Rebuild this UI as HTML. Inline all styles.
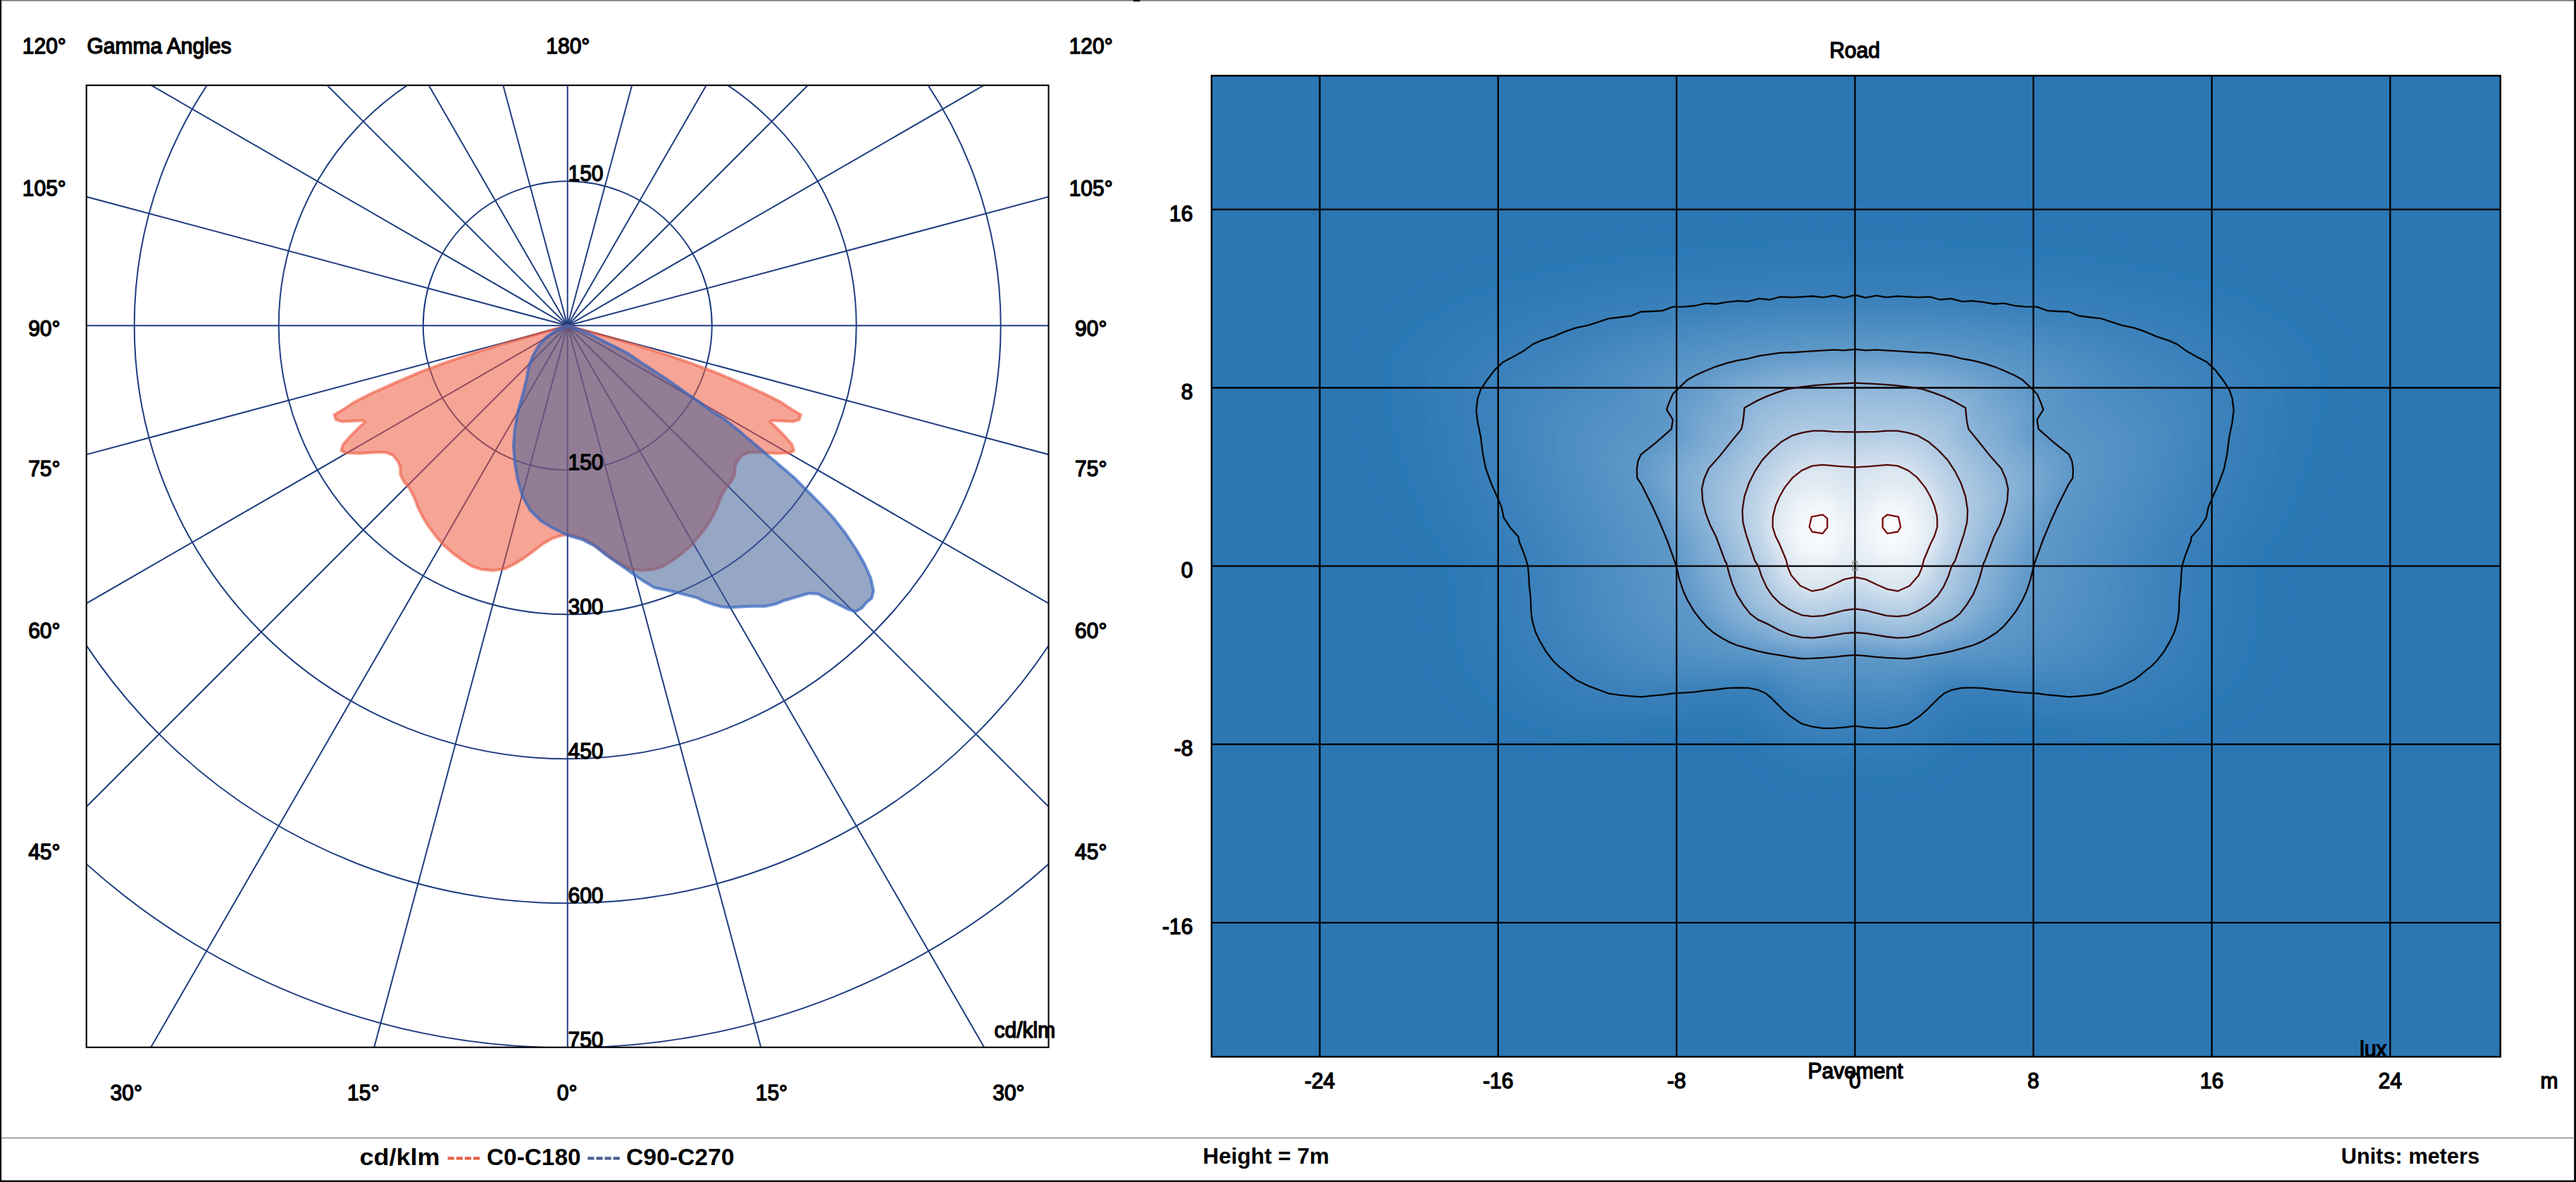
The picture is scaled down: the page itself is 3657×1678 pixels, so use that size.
<!DOCTYPE html>
<html><head><meta charset="utf-8"><title>Photometry</title>
<style>html,body{margin:0;padding:0;background:#fff}body{width:3657px;height:1678px;overflow:hidden}svg{display:block}</style>
</head><body>
<svg width="3657" height="1678" viewBox="0 0 3657 1678">
<defs>
<clipPath id="pc"><rect x="122.7" y="121.1" width="1365.9" height="1365.7"/></clipPath>
<clipPath id="hc"><rect x="1720" y="107.5" width="1829.6" height="1392.7"/></clipPath>
<radialGradient id="pk"><stop offset="0" stop-color="#fff" stop-opacity="0.95"/><stop offset="0.35" stop-color="#fff" stop-opacity="0.7"/><stop offset="0.7" stop-color="#fff" stop-opacity="0.25"/><stop offset="1" stop-color="#fff" stop-opacity="0"/></radialGradient>
<filter id="bl" x="-5%" y="-5%" width="110%" height="110%"><feGaussianBlur stdDeviation="6"/></filter>
</defs>
<rect width="3657" height="1678" fill="#fff"/>
<g clip-path="url(#pc)" fill="none" stroke="#1f3d80" stroke-width="2">
<circle cx="805.7" cy="462.3" r="205"/>
<circle cx="805.7" cy="462.3" r="410"/>
<circle cx="805.7" cy="462.3" r="615"/>
<circle cx="805.7" cy="462.3" r="820"/>
<circle cx="805.7" cy="462.3" r="1025"/>
<path d="M805.7 462.3L3005.7 462.3"/>
<path d="M805.7 462.3L2930.7 1031.7"/>
<path d="M805.7 462.3L2711 1562.3"/>
<path d="M805.7 462.3L2361.3 2017.9"/>
<path d="M805.7 462.3L1905.7 2367.6"/>
<path d="M805.7 462.3L1375.1 2587.3"/>
<path d="M805.7 462.3L805.7 2662.3"/>
<path d="M805.7 462.3L236.3 2587.3"/>
<path d="M805.7 462.3L-294.3 2367.6"/>
<path d="M805.7 462.3L-749.9 2017.9"/>
<path d="M805.7 462.3L-1099.6 1562.3"/>
<path d="M805.7 462.3L-1319.3 1031.7"/>
<path d="M805.7 462.3L-1394.3 462.3"/>
<path d="M805.7 462.3L-1319.3 -107.1"/>
<path d="M805.7 462.3L-1099.6 -637.7"/>
<path d="M805.7 462.3L-749.9 -1093.3"/>
<path d="M805.7 462.3L-294.3 -1443"/>
<path d="M805.7 462.3L236.3 -1662.7"/>
<path d="M805.7 462.3L805.7 -1737.7"/>
<path d="M805.7 462.3L1375.1 -1662.7"/>
<path d="M805.7 462.3L1905.7 -1443"/>
<path d="M805.7 462.3L2361.3 -1093.3"/>
<path d="M805.7 462.3L2711 -637.7"/>
<path d="M805.7 462.3L2930.7 -107.1"/>
</g>
<path d="M805.7 462.3L764.6 473.8L730.7 483.3L696.9 493.5L663 504.3L629.2 516.1L595.4 528.7L561.5 543.2L527.7 558.4L504 570.3L487.1 581.5L474.6 588.9L476.9 595.7L485.4 598.4L500.6 597.7L515.8 597L518.2 599.1L510.8 605.8L497.2 619.4L487.1 631.2L484.4 639.7L490.5 643L510.8 643.7L534.5 642L548.7 642.4L558.1 646.4L564.9 654.9L568.3 663.4L568.3 673.5L573.4 683.7L581.8 693.8L588.6 707.3L593.7 720.9L600.4 734.4L608.9 748L619.1 761.5L629.2 773.3L642.7 785.2L656.3 795.3L669.8 803.8L683.4 808.2L700.3 809.9L717.2 807.2L730.7 800.4L744.3 791.9L757.8 781.8L771.3 771.6L784.9 763.9L798.4 759.8L805.7 758.8L813 759.8L826.5 763.9L840.1 771.6L853.6 781.8L867.1 791.9L880.7 800.4L894.2 807.2L911.1 809.9L928 808.2L941.6 803.8L955.1 795.3L968.7 785.2L982.2 773.3L992.3 761.5L1002.5 748L1011 734.4L1017.7 720.9L1022.8 707.3L1029.6 693.8L1038 683.7L1043.1 673.5L1043.1 663.4L1046.5 654.9L1053.3 646.4L1062.7 642.4L1076.9 642L1100.6 643.7L1120.9 643L1127 639.7L1124.3 631.2L1114.2 619.4L1100.6 605.8L1093.2 599.1L1095.6 597L1110.8 597.7L1126 598.4L1134.5 595.7L1136.8 588.9L1124.3 581.5L1107.4 570.3L1083.7 558.4L1049.9 543.2L1016 528.7L982.2 516.1L948.4 504.3L914.5 493.5L880.7 483.3L846.8 473.8Z" fill="#ee5a40" fill-opacity="0.55" stroke="#ee5a40" stroke-opacity="0.6" stroke-width="4.2" stroke-linejoin="round"/>
<path d="M805.7 462.3L789.9 468.8L776.4 477.9L764.6 490.8L756.1 506L750.4 521.2L747.6 538.1L742.6 558.4L735.8 582.1L730.7 609.2L729 632.9L730.7 656.6L734.8 680.3L741.6 704L752.7 724.3L768 739.5L784.9 749.6L805.9 759.8L827.7 766.6L844.6 775L861.5 788.6L878.4 800.4L895.4 812.3L912.3 824.1L929.2 834.2L950.8 838.6L971.1 843.7L988.8 848.2L1000 853.7L1012.7 858.1L1025.4 861.4L1038.1 862.4L1050.8 861.4L1068.6 860.6L1086.3 860.6L1101.6 857.3L1111.7 853L1124.4 849.2L1137.1 845.4L1148.6 842.3L1161.2 842.8L1172.7 849.2L1187.9 856.8L1203.1 864.4L1214.6 868.2L1223.5 863.1L1229.8 855.5L1237.4 849.2L1240 839L1236.2 821.2L1227.3 800.9L1215.8 780.6L1200.6 757.8L1182.8 734.9L1165.1 715.9L1147.3 698.1L1127 677.8L1101.6 656.2L1076.2 634.6L1050.8 613L1025.4 592.7L1010 583.7L993 571L976.1 559.1L959.2 547.3L942.3 535.4L925.4 524.5L908.4 513.5L891.5 501.6L874.6 493.1L857.7 484.7L840.8 476.2L823.8 468.6Z" fill="#3f5c96" fill-opacity="0.55" stroke="#3565c0" stroke-opacity="0.7" stroke-width="4.2" stroke-linejoin="round"/>
<rect x="122.7" y="121.1" width="1365.9" height="1365.7" fill="none" stroke="#000" stroke-width="2.1"/>
<rect x="1720" y="107.5" width="1829.6" height="1392.7" fill="#2b77b4"/>
<g clip-path="url(#hc)"><g filter="url(#bl)">
<path d="M3282.9 745L3263.3 772.5L3253.7 799.3L3246.1 825.7L3244.2 852.7L3241.4 879.8L3240.4 907.6L3235.4 934.8L3225.1 960.4L3211.1 984.3L3192.9 1005.9L3170.5 1024.6L3145.7 1040.8L3116.9 1053L3086.6 1062.4L3051.9 1066.1L3015.6 1065.7L2978.7 1061.4L2947.7 1059.3L2918.6 1056.2L2892.4 1053.7L2868.1 1050.9L2847.3 1050.4L2828.7 1051.6L2812.6 1055.5L2798.7 1062.6L2786.5 1073.4L2774.4 1085.5L2761.6 1097.4L2747.9 1108.1L2733.3 1117.8L2717.1 1122.4L2700.5 1125.3L2683.6 1126.4L2666.7 1125.6L2650 1124.1L2633.4 1122.1L2616.8 1124.1L2600.1 1125.6L2583.2 1126.4L2566.3 1125.3L2549.7 1122.4L2533.5 1117.8L2518.9 1108.1L2505.2 1097.4L2492.4 1085.5L2480.3 1073.4L2468.1 1062.6L2454.2 1055.5L2438.1 1051.6L2419.5 1050.4L2398.7 1050.9L2374.4 1053.7L2348.2 1056.2L2319.1 1059.3L2288.1 1061.4L2251.2 1065.7L2214.9 1066.1L2180.2 1062.4L2149.9 1053L2121.1 1040.8L2096.3 1024.6L2073.9 1005.9L2055.7 984.3L2041.7 960.4L2031.4 934.8L2026.4 907.6L2025.4 879.8L2022.6 852.7L2020.7 825.7L2013.1 799.3L2003.5 772.5L1983.9 745L1972 716.1L1960 686.1L1947.1 654.6L1938.2 622.4L1933.2 589.8L1927.1 555.7L1924.8 521.6L1932.9 490.1L1952.2 462.8L1976.5 438.7L2010 420.5L2039.7 402.2L2075.1 389.3L2107.6 376.9L2142.4 368.3L2172.7 358.4L2207.1 354.3L2234 345.6L2266.3 344.3L2291.1 337.1L2319.4 335.7L2344.3 332.1L2369.6 330.9L2392.5 327.8L2415 325.5L2437.6 325.2L2458 321.5L2479.3 321.7L2498.8 318L2519.2 318.6L2538.6 317.5L2557.9 317L2577.2 318.3L2595.9 315.9L2614.8 319L2633.4 314.5L2652 319L2670.9 315.9L2689.6 318.3L2708.9 317L2728.2 317.5L2747.6 318.6L2768 318L2787.5 321.7L2808.8 321.5L2829.2 325.2L2851.8 325.5L2874.3 327.8L2897.2 330.9L2922.5 332.1L2947.4 335.7L2975.7 337.1L3000.5 344.3L3032.8 345.6L3059.7 354.3L3094.1 358.4L3124.4 368.3L3159.2 376.9L3191.7 389.3L3227.1 402.2L3256.8 420.5L3290.3 438.7L3314.6 462.8L3333.9 490.1L3342 521.6L3339.7 555.7L3333.6 589.8L3328.6 622.4L3319.7 654.6L3306.8 686.1L3294.8 716.1Z" fill="#2b77b4"/>
<path d="M3271.6 745L3252.4 772L3242.9 798.3L3235.5 824.3L3233.6 850.8L3230.9 877.5L3229.9 904.8L3225 931.5L3214.8 956.6L3201.1 980.2L3183.2 1001.4L3161.2 1019.8L3136.8 1035.7L3108.5 1047.7L3078.8 1056.9L3044.6 1060.6L3009 1060.1L2972.7 1055.9L2942.3 1053.9L2913.6 1050.8L2887.9 1048.3L2864 1045.6L2843.6 1045.2L2825.3 1046.3L2809.5 1050.1L2795.9 1057.1L2783.9 1067.7L2772 1079.6L2759.4 1091.2L2745.9 1101.8L2731.6 1111.3L2715.6 1115.9L2699.3 1118.7L2682.7 1119.8L2666.1 1119L2649.7 1117.5L2633.4 1115.6L2617.1 1117.5L2600.7 1119L2584.1 1119.8L2567.5 1118.7L2551.2 1115.9L2535.2 1111.3L2520.9 1101.8L2507.4 1091.2L2494.8 1079.6L2482.9 1067.7L2470.9 1057.1L2457.3 1050.1L2441.5 1046.3L2423.2 1045.2L2402.8 1045.6L2378.9 1048.3L2353.2 1050.8L2324.5 1053.9L2294.1 1055.9L2257.8 1060.1L2222.2 1060.6L2188 1056.9L2158.3 1047.7L2130 1035.7L2105.6 1019.8L2083.6 1001.4L2065.7 980.2L2052 956.6L2041.8 931.5L2036.9 904.8L2035.9 877.5L2033.2 850.8L2031.3 824.3L2023.9 798.3L2014.4 772L1995.2 745L1983.4 716.6L1971.6 687.1L1958.9 656.2L1950.2 624.5L1945.3 592.5L1939.3 559L1937.1 525.4L1945.1 494.5L1964 467.7L1987.9 444L2020.8 426.1L2050 408.1L2084.8 395.5L2116.7 383.2L2150.9 374.8L2180.7 365.1L2214.4 361.1L2240.9 352.5L2272.6 351.3L2297.1 344.2L2324.8 342.8L2349.3 339.3L2374.2 338.1L2396.7 335L2418.8 332.8L2441 332.5L2461 328.8L2482 329L2501.1 325.4L2521.1 326L2540.3 324.9L2559.2 324.4L2578.2 325.7L2596.5 323.3L2615.1 326.4L2633.4 322L2651.7 326.4L2670.3 323.3L2688.6 325.7L2707.6 324.4L2726.5 324.9L2745.7 326L2765.7 325.4L2784.8 329L2805.8 328.8L2825.8 332.5L2848 332.8L2870.1 335L2892.6 338.1L2917.5 339.3L2942 342.8L2969.7 344.2L2994.2 351.3L3025.9 352.5L3052.4 361.1L3086.1 365.1L3115.9 374.8L3150.1 383.2L3182 395.5L3216.8 408.1L3246 426.1L3278.9 444L3302.8 467.7L3321.7 494.5L3329.7 525.4L3327.5 559L3321.5 592.5L3316.6 624.5L3307.9 656.2L3295.2 687.1L3283.4 716.6Z" fill="#2b77b4"/>
<path d="M3260.4 745L3241.5 771.5L3232.2 797.4L3224.9 822.9L3223 849L3220.4 875.1L3219.3 902L3214.5 928.2L3204.6 952.9L3191.1 976L3173.6 996.9L3151.9 1014.9L3128 1030.5L3100.1 1042.3L3070.9 1051.4L3037.4 1055L3002.3 1054.6L2966.7 1050.4L2936.9 1048.5L2908.7 1045.4L2883.4 1043L2860 1040.3L2839.9 1039.9L2822 1041L2806.4 1044.7L2793 1051.6L2781.2 1062L2769.5 1073.7L2757.2 1085.1L2743.9 1095.5L2729.8 1104.9L2714.2 1109.3L2698.1 1112.2L2681.9 1113.2L2665.5 1112.5L2649.4 1111L2633.4 1109L2617.4 1111L2601.3 1112.5L2584.9 1113.2L2568.7 1112.2L2552.6 1109.3L2537 1104.9L2522.9 1095.5L2509.6 1085.1L2497.3 1073.7L2485.6 1062L2473.8 1051.6L2460.4 1044.7L2444.8 1041L2426.9 1039.9L2406.8 1040.3L2383.4 1043L2358.1 1045.4L2329.9 1048.5L2300.1 1050.4L2264.5 1054.6L2229.4 1055L2195.9 1051.4L2166.7 1042.3L2138.8 1030.5L2114.9 1014.9L2093.2 996.9L2075.7 976L2062.2 952.9L2052.3 928.2L2047.5 902L2046.4 875.1L2043.8 849L2041.9 822.9L2034.6 797.4L2025.3 771.5L2006.4 745L1994.9 717.1L1983.3 688.1L1970.8 657.8L1962.2 626.7L1957.5 595.1L1951.5 562.3L1949.3 529.3L1957.2 498.9L1975.8 472.6L1999.3 449.3L2031.6 431.7L2060.2 414.1L2094.4 401.6L2125.8 389.6L2159.4 381.3L2188.6 371.8L2221.8 367.9L2247.8 359.4L2279 358.2L2303 351.2L2330.2 349.9L2354.3 346.4L2378.7 345.3L2400.9 342.3L2422.6 340.1L2444.4 339.7L2464.1 336.2L2484.7 336.4L2503.4 332.8L2523.1 333.4L2541.9 332.3L2560.5 331.8L2579.2 333.1L2597.2 330.8L2615.4 333.8L2633.4 329.4L2651.4 333.8L2669.6 330.8L2687.6 333.1L2706.3 331.8L2724.9 332.3L2743.7 333.4L2763.4 332.8L2782.1 336.4L2802.7 336.2L2822.4 339.7L2844.2 340.1L2865.9 342.3L2888.1 345.3L2912.5 346.4L2936.6 349.9L2963.8 351.2L2987.8 358.2L3019 359.4L3045 367.9L3078.2 371.8L3107.4 381.3L3141 389.6L3172.4 401.6L3206.6 414.1L3235.2 431.7L3267.5 449.3L3291 472.6L3309.6 498.9L3317.5 529.3L3315.3 562.3L3309.3 595.1L3304.6 626.7L3296 657.8L3283.5 688.1L3271.9 717.1Z" fill="#2c77b4"/>
<path d="M3249.1 745L3230.6 771.1L3221.4 796.4L3214.3 821.5L3212.5 847.1L3209.8 872.8L3208.8 899.2L3204.1 924.9L3194.3 949.2L3181.1 971.9L3163.9 992.4L3142.6 1010.1L3119.1 1025.4L3091.7 1037L3063.1 1045.9L3030.1 1049.4L2995.7 1049L2960.7 1044.9L2931.4 1043L2903.7 1040L2878.9 1037.6L2855.9 1035L2836.2 1034.6L2818.6 1035.7L2803.3 1039.3L2790.1 1046.1L2778.6 1056.3L2767.1 1067.8L2755 1079L2741.9 1089.2L2728.1 1098.4L2712.7 1102.8L2697 1105.6L2681 1106.6L2665 1105.9L2649.1 1104.4L2633.4 1102.5L2617.7 1104.4L2601.8 1105.9L2585.8 1106.6L2569.8 1105.6L2554.1 1102.8L2538.7 1098.4L2524.9 1089.2L2511.8 1079L2499.7 1067.8L2488.2 1056.3L2476.7 1046.1L2463.5 1039.3L2448.2 1035.7L2430.6 1034.6L2410.9 1035L2387.9 1037.6L2363.1 1040L2335.4 1043L2306.1 1044.9L2271.1 1049L2236.7 1049.4L2203.7 1045.9L2175.1 1037L2147.7 1025.4L2124.2 1010.1L2102.9 992.4L2085.7 971.9L2072.5 949.2L2062.7 924.9L2058 899.2L2057 872.8L2054.3 847.1L2052.5 821.5L2045.4 796.4L2036.2 771.1L2017.7 745L2006.3 717.6L1994.9 689.1L1982.7 659.3L1974.3 628.8L1969.6 597.8L1963.8 565.6L1961.6 533.2L1969.3 503.3L1987.6 477.5L2010.6 454.6L2042.4 437.4L2070.5 420L2104.1 407.8L2134.9 396L2167.9 387.8L2196.6 378.5L2229.2 374.6L2254.7 366.3L2285.3 365.1L2308.9 358.3L2335.7 357L2359.3 353.6L2383.3 352.4L2405 349.5L2426.4 347.3L2447.8 347L2467.1 343.5L2487.3 343.7L2505.8 340.2L2525.1 340.8L2543.6 339.7L2561.8 339.2L2580.1 340.5L2597.8 338.2L2615.8 341.2L2633.4 336.9L2651 341.1L2669 338.2L2686.7 340.5L2705 339.2L2723.2 339.7L2741.7 340.8L2761 340.2L2779.5 343.7L2799.7 343.5L2819 347L2840.4 347.3L2861.8 349.5L2883.5 352.4L2907.5 353.6L2931.1 357L2957.9 358.3L2981.5 365.1L3012.1 366.3L3037.6 374.6L3070.2 378.5L3098.9 387.8L3131.9 396L3162.7 407.8L3196.3 420L3224.4 437.4L3256.2 454.6L3279.2 477.5L3297.5 503.3L3305.2 533.2L3303 565.6L3297.2 597.8L3292.5 628.8L3284.1 659.3L3271.9 689.1L3260.5 717.6Z" fill="#2c78b5"/>
<path d="M3237.9 745L3219.7 770.6L3210.7 795.5L3203.7 820.1L3201.9 845.2L3199.3 870.5L3198.3 896.4L3193.7 921.7L3184.1 945.4L3171.1 967.7L3154.2 987.8L3133.3 1005.2L3110.2 1020.3L3083.4 1031.7L3055.2 1040.4L3022.9 1043.9L2989.1 1043.5L2954.8 1039.5L2926 1037.6L2898.8 1034.6L2874.5 1032.3L2851.8 1029.7L2832.5 1029.3L2815.2 1030.3L2800.2 1034L2787.3 1040.6L2775.9 1050.6L2764.7 1061.9L2752.8 1072.9L2739.9 1082.9L2726.4 1092L2711.3 1096.3L2695.8 1099L2680.1 1100L2664.4 1099.3L2648.8 1097.8L2633.4 1096L2618 1097.8L2602.4 1099.3L2586.7 1100L2571 1099L2555.5 1096.3L2540.4 1092L2526.9 1082.9L2514 1072.9L2502.1 1061.9L2490.9 1050.6L2479.5 1040.6L2466.6 1034L2451.6 1030.3L2434.3 1029.3L2415 1029.7L2392.3 1032.3L2368 1034.6L2340.8 1037.6L2312 1039.5L2277.7 1043.5L2243.9 1043.9L2211.6 1040.4L2183.4 1031.7L2156.6 1020.3L2133.5 1005.2L2112.6 987.8L2095.7 967.7L2082.7 945.4L2073.1 921.7L2068.5 896.4L2067.5 870.5L2064.9 845.2L2063.1 820.1L2056.1 795.5L2047.1 770.6L2028.9 745L2017.8 718.1L2006.6 690.2L1994.6 660.9L1986.3 630.9L1981.7 600.5L1976 568.8L1973.9 537.1L1981.5 507.7L1999.3 482.4L2022 459.9L2053.2 443L2080.8 426L2113.8 414L2144.1 402.4L2176.5 394.4L2204.6 385.2L2236.6 381.4L2261.7 373.3L2291.7 372.1L2314.8 365.4L2341.1 364.1L2364.3 360.7L2387.9 359.6L2409.2 356.7L2430.2 354.6L2451.2 354.3L2470.1 350.8L2490 351L2508.1 347.6L2527.1 348.2L2545.2 347.1L2563.2 346.6L2581.1 347.9L2598.5 345.6L2616.1 348.5L2633.4 344.3L2650.7 348.5L2668.3 345.6L2685.7 347.9L2703.6 346.6L2721.6 347.1L2739.7 348.2L2758.7 347.6L2776.8 351L2796.7 350.8L2815.6 354.3L2836.6 354.6L2857.6 356.7L2878.9 359.6L2902.5 360.7L2925.7 364.1L2952 365.4L2975.1 372.1L3005.1 373.3L3030.2 381.4L3062.2 385.2L3090.3 394.4L3122.7 402.4L3153 414L3186 426L3213.6 443L3244.8 459.9L3267.5 482.4L3285.3 507.7L3292.9 537.1L3290.8 568.8L3285.1 600.5L3280.5 630.9L3272.2 660.9L3260.2 690.2L3249 718.1Z" fill="#2d78b5"/>
<path d="M3226.6 745L3208.8 770.1L3200 794.6L3193 818.7L3191.3 843.4L3188.8 868.1L3187.8 893.6L3183.3 918.4L3173.8 941.7L3161.1 963.6L3144.5 983.3L3124 1000.4L3101.4 1015.2L3075 1026.3L3047.4 1034.9L3015.7 1038.3L2982.5 1037.9L2948.8 1034L2920.5 1032.1L2893.9 1029.3L2870 1026.9L2847.8 1024.4L2828.8 1024L2811.8 1025L2797.1 1028.6L2784.4 1035.1L2773.3 1044.9L2762.2 1056L2750.5 1066.8L2738 1076.6L2724.6 1085.5L2709.8 1089.7L2694.7 1092.4L2679.3 1093.3L2663.8 1092.7L2648.5 1091.3L2633.4 1089.5L2618.3 1091.3L2603 1092.7L2587.5 1093.3L2572.1 1092.4L2557 1089.7L2542.2 1085.5L2528.8 1076.6L2516.3 1066.8L2504.6 1056L2493.5 1044.9L2482.4 1035.1L2469.7 1028.6L2455 1025L2438 1024L2419 1024.4L2396.8 1026.9L2372.9 1029.3L2346.3 1032.1L2318 1034L2284.3 1037.9L2251.1 1038.3L2219.4 1034.9L2191.8 1026.3L2165.4 1015.2L2142.8 1000.4L2122.3 983.3L2105.7 963.6L2093 941.7L2083.5 918.4L2079 893.6L2078 868.1L2075.5 843.4L2073.8 818.7L2066.8 794.6L2058 770.1L2040.2 745L2029.2 718.6L2018.3 691.2L2006.5 662.5L1998.4 633L1993.8 603.2L1988.2 572.1L1986.1 540.9L1993.6 512.1L2011.1 487.3L2033.4 465.2L2064 448.6L2091.1 431.9L2123.4 420.1L2153.2 408.7L2185 400.9L2212.6 391.9L2244 388.2L2268.6 380.2L2298 379L2320.8 372.4L2346.5 371.2L2369.3 367.9L2392.4 366.8L2413.4 363.9L2433.9 361.9L2454.6 361.5L2473.2 358.2L2492.7 358.3L2510.4 355L2529 355.5L2546.8 354.5L2564.5 354L2582.1 355.3L2599.1 353.1L2616.4 355.9L2633.4 351.8L2650.4 355.9L2667.7 353.1L2684.7 355.3L2702.3 354L2720 354.5L2737.8 355.5L2756.4 355L2774.1 358.3L2793.6 358.2L2812.2 361.5L2832.9 361.9L2853.4 363.9L2874.4 366.8L2897.5 367.9L2920.3 371.2L2946 372.4L2968.8 379L2998.2 380.2L3022.8 388.2L3054.2 391.9L3081.8 400.9L3113.6 408.7L3143.4 420.1L3175.7 431.9L3202.8 448.6L3233.4 465.2L3255.7 487.3L3273.2 512.1L3280.7 540.9L3278.6 572.1L3273 603.2L3268.4 633L3260.3 662.5L3248.5 691.2L3237.6 718.6Z" fill="#2e79b5"/>
<path d="M3215.4 745L3197.8 769.6L3189.2 793.6L3182.4 817.3L3180.7 841.5L3178.2 865.8L3177.3 890.7L3172.8 915.1L3163.6 938L3151.1 959.4L3134.8 978.8L3114.7 995.6L3092.5 1010.1L3066.6 1021L3039.5 1029.4L3008.4 1032.8L2975.9 1032.4L2942.8 1028.5L2915.1 1026.7L2888.9 1023.9L2865.5 1021.6L2843.7 1019.1L2825.1 1018.7L2808.4 1019.7L2794 1023.2L2781.5 1029.6L2770.6 1039.2L2759.8 1050.1L2748.3 1060.7L2736 1070.3L2722.9 1079.1L2708.4 1083.2L2693.5 1085.8L2678.4 1086.7L2663.2 1086.1L2648.2 1084.7L2633.4 1082.9L2618.6 1084.7L2603.6 1086.1L2588.4 1086.7L2573.3 1085.8L2558.4 1083.2L2543.9 1079.1L2530.8 1070.3L2518.5 1060.7L2507 1050.1L2496.2 1039.2L2485.3 1029.6L2472.8 1023.2L2458.4 1019.7L2441.7 1018.7L2423.1 1019.1L2401.3 1021.6L2377.9 1023.9L2351.7 1026.7L2324 1028.5L2290.9 1032.4L2258.4 1032.8L2227.3 1029.4L2200.2 1021L2174.3 1010.1L2152.1 995.6L2132 978.8L2115.7 959.4L2103.2 938L2094 915.1L2089.5 890.7L2088.6 865.8L2086.1 841.5L2084.4 817.3L2077.6 793.6L2069 769.6L2051.4 745L2040.7 719.1L2029.9 692.2L2018.4 664L2010.4 635.1L2006 605.9L2000.4 575.4L1998.4 544.8L2005.7 516.5L2022.9 492.1L2044.8 470.5L2074.8 454.2L2101.4 437.8L2133.1 426.3L2162.3 415.1L2193.5 407.4L2220.6 398.6L2251.4 394.9L2275.5 387.1L2304.4 386L2326.7 379.5L2352 378.3L2374.3 375L2397 373.9L2417.6 371.1L2437.7 369.1L2458 368.8L2476.2 365.5L2495.3 365.7L2512.8 362.4L2531 362.9L2548.5 361.9L2565.8 361.4L2583.1 362.6L2599.8 360.5L2616.7 363.3L2633.4 359.2L2650.1 363.3L2667 360.5L2683.7 362.6L2701 361.4L2718.3 361.9L2735.8 362.9L2754 362.4L2771.5 365.7L2790.6 365.5L2808.8 368.8L2829.1 369.1L2849.2 371.1L2869.8 373.9L2892.5 375L2914.8 378.3L2940.1 379.5L2962.4 386L2991.3 387.1L3015.4 394.9L3046.2 398.6L3073.3 407.4L3104.5 415.1L3133.7 426.3L3165.4 437.8L3192 454.2L3222 470.5L3243.9 492.1L3261.1 516.5L3268.4 544.8L3266.4 575.4L3260.8 605.9L3256.4 635.1L3248.4 664L3236.9 692.2L3226.1 719.1Z" fill="#2f7ab6"/>
<path d="M3204.1 745L3186.9 769.2L3178.5 792.7L3171.8 815.9L3170.2 839.6L3167.7 863.5L3166.8 887.9L3162.4 911.8L3153.4 934.2L3141.1 955.3L3125.1 974.3L3105.4 990.7L3083.6 1004.9L3058.3 1015.7L3031.7 1023.9L3001.2 1027.2L2969.3 1026.8L2936.8 1023L2909.6 1021.2L2884 1018.5L2861 1016.3L2839.6 1013.8L2821.4 1013.4L2805 1014.4L2790.9 1017.8L2778.7 1024.1L2768 1033.6L2757.3 1044.2L2746.1 1054.6L2734 1064.1L2721.2 1072.6L2706.9 1076.7L2692.3 1079.2L2677.5 1080.1L2662.7 1079.5L2647.9 1078.1L2633.4 1076.4L2618.9 1078.1L2604.1 1079.5L2589.3 1080.1L2574.5 1079.2L2559.9 1076.7L2545.6 1072.6L2532.8 1064.1L2520.7 1054.6L2509.5 1044.2L2498.8 1033.6L2488.1 1024.1L2475.9 1017.8L2461.8 1014.4L2445.4 1013.4L2427.2 1013.8L2405.8 1016.3L2382.8 1018.5L2357.2 1021.2L2330 1023L2297.5 1026.8L2265.6 1027.2L2235.1 1023.9L2208.5 1015.7L2183.2 1004.9L2161.4 990.7L2141.7 974.3L2125.7 955.3L2113.4 934.2L2104.4 911.8L2100 887.9L2099.1 863.5L2096.6 839.6L2095 815.9L2088.3 792.7L2079.9 769.2L2062.7 745L2052.2 719.6L2041.6 693.2L2030.2 665.6L2022.4 637.3L2018.1 608.6L2012.7 578.7L2010.7 548.7L2017.8 521L2034.7 497L2056.1 475.8L2085.6 459.8L2111.6 443.8L2142.8 432.4L2171.4 421.5L2202 413.9L2228.5 405.3L2258.7 401.7L2282.4 394L2310.8 392.9L2332.6 386.5L2357.4 385.3L2379.3 382.2L2401.6 381.1L2421.7 378.4L2441.5 376.4L2461.4 376.1L2479.2 372.8L2498 373L2515.1 369.8L2533 370.3L2550.1 369.3L2567.1 368.9L2584 370L2600.4 367.9L2617.1 370.7L2633.4 366.7L2649.7 370.6L2666.4 367.9L2682.8 370L2699.7 368.9L2716.7 369.3L2733.8 370.3L2751.7 369.8L2768.8 373L2787.6 372.8L2805.4 376.1L2825.3 376.4L2845.1 378.4L2865.2 381.1L2887.5 382.2L2909.4 385.3L2934.2 386.5L2956 392.9L2984.4 394L3008.1 401.7L3038.3 405.3L3064.8 413.9L3095.4 421.5L3124 432.4L3155.2 443.8L3181.2 459.8L3210.7 475.8L3232.1 497L3249 521L3256.1 548.7L3254.1 578.7L3248.7 608.6L3244.4 637.3L3236.6 665.6L3225.2 693.2L3214.6 719.6Z" fill="#307ab6"/>
<path d="M3192.9 745L3176 768.7L3167.7 791.7L3161.2 814.5L3159.6 837.8L3157.2 861.1L3156.3 885.1L3152 908.5L3143.1 930.5L3131.1 951.1L3115.4 969.8L3096.1 985.9L3074.7 999.8L3049.9 1010.3L3023.8 1018.4L2993.9 1021.6L2962.6 1021.3L2930.8 1017.5L2904.2 1015.8L2879.1 1013.1L2856.5 1010.9L2835.6 1008.5L2817.6 1008.1L2801.7 1009.1L2787.8 1012.5L2775.8 1018.6L2765.3 1027.9L2754.9 1038.3L2743.9 1048.5L2732 1057.8L2719.4 1066.1L2705.5 1070.1L2691.2 1072.6L2676.7 1073.5L2662.1 1072.9L2647.7 1071.6L2633.4 1069.9L2619.1 1071.6L2604.7 1072.9L2590.1 1073.5L2575.6 1072.6L2561.3 1070.1L2547.4 1066.1L2534.8 1057.8L2522.9 1048.5L2511.9 1038.3L2501.5 1027.9L2491 1018.6L2479 1012.5L2465.1 1009.1L2449.2 1008.1L2431.2 1008.5L2410.3 1010.9L2387.7 1013.1L2362.6 1015.8L2336 1017.5L2304.2 1021.3L2272.9 1021.6L2243 1018.4L2216.9 1010.3L2192.1 999.8L2170.7 985.9L2151.4 969.8L2135.7 951.1L2123.7 930.5L2114.8 908.5L2110.5 885.1L2109.6 861.1L2107.2 837.8L2105.6 814.5L2099.1 791.7L2090.8 768.7L2073.9 745L2063.6 720.1L2053.3 694.2L2042.1 667.2L2034.5 639.4L2030.2 611.3L2024.9 582L2023 552.5L2030 525.4L2046.5 501.9L2067.5 481.1L2096.4 465.4L2121.9 449.7L2152.4 438.6L2180.5 427.9L2210.5 420.5L2236.5 412L2266.1 408.4L2289.3 400.9L2317.1 399.8L2338.5 393.6L2362.9 392.4L2384.4 389.3L2406.1 388.3L2425.9 385.6L2445.3 383.6L2464.8 383.3L2482.3 380.2L2500.7 380.3L2517.4 377.1L2535 377.7L2551.8 376.7L2568.4 376.3L2585 377.4L2601.1 375.4L2617.4 378L2633.4 374.1L2649.4 378L2665.7 375.4L2681.8 377.4L2698.4 376.3L2715 376.7L2731.8 377.7L2749.4 377.1L2766.1 380.3L2784.5 380.2L2802 383.3L2821.5 383.6L2840.9 385.6L2860.7 388.3L2882.4 389.3L2903.9 392.4L2928.3 393.6L2949.7 399.8L2977.5 400.9L3000.7 408.4L3030.3 412L3056.3 420.5L3086.3 427.9L3114.4 438.6L3144.9 449.7L3170.4 465.4L3199.3 481.1L3220.3 501.9L3236.8 525.4L3243.8 552.5L3241.9 582L3236.6 611.3L3232.3 639.4L3224.7 667.2L3213.5 694.2L3203.2 720.1Z" fill="#317bb7"/>
<path d="M3181.6 745L3165.1 768.2L3157 790.8L3150.6 813.1L3149 835.9L3146.7 858.8L3145.8 882.3L3141.6 905.2L3132.9 926.8L3121.1 947L3105.7 965.3L3086.8 981L3065.9 994.7L3041.5 1005L3016 1012.9L2986.7 1016.1L2956 1015.7L2924.9 1012.1L2898.8 1010.4L2874.1 1007.7L2852 1005.6L2831.5 1003.2L2813.9 1002.8L2798.3 1003.8L2784.7 1007.1L2773 1013.1L2762.7 1022.2L2752.4 1032.4L2741.7 1042.4L2730 1051.5L2717.7 1059.7L2704 1063.6L2690 1066.1L2675.8 1066.9L2661.5 1066.3L2647.4 1065L2633.4 1063.3L2619.4 1065L2605.3 1066.3L2591 1066.9L2576.8 1066.1L2562.8 1063.6L2549.1 1059.7L2536.8 1051.5L2525.1 1042.4L2514.4 1032.4L2504.1 1022.2L2493.8 1013.1L2482.1 1007.1L2468.5 1003.8L2452.9 1002.8L2435.3 1003.2L2414.8 1005.6L2392.7 1007.7L2368 1010.4L2341.9 1012.1L2310.8 1015.7L2280.1 1016.1L2250.8 1012.9L2225.3 1005L2200.9 994.7L2180 981L2161.1 965.3L2145.7 947L2133.9 926.8L2125.2 905.2L2121 882.3L2120.1 858.8L2117.8 835.9L2116.2 813.1L2109.8 790.8L2101.7 768.2L2085.2 745L2075.1 720.6L2064.9 695.3L2054 668.7L2046.5 641.5L2042.3 614L2037.1 585.2L2035.2 556.4L2042.1 529.8L2058.3 506.8L2078.9 486.4L2107.2 471.1L2132.2 455.6L2162.1 444.8L2189.6 434.2L2219 427L2244.5 418.7L2273.5 415.2L2296.2 407.8L2323.5 406.8L2344.5 400.7L2368.3 399.5L2389.4 396.5L2410.7 395.4L2430.1 392.8L2449.1 390.9L2468.1 390.6L2485.3 387.5L2503.3 387.7L2519.7 384.5L2537 385.1L2553.4 384.1L2569.7 383.7L2586 384.8L2601.7 382.8L2617.7 385.4L2633.4 381.6L2649.1 385.4L2665.1 382.8L2680.8 384.8L2697.1 383.7L2713.4 384.1L2729.8 385.1L2747.1 384.5L2763.5 387.7L2781.5 387.5L2798.7 390.6L2817.7 390.9L2836.7 392.8L2856.1 395.4L2877.4 396.5L2898.5 399.5L2922.3 400.7L2943.3 406.8L2970.6 407.8L2993.3 415.2L3022.3 418.7L3047.8 427L3077.2 434.2L3104.7 444.8L3134.6 455.6L3159.6 471.1L3187.9 486.4L3208.5 506.8L3224.7 529.8L3231.6 556.4L3229.7 585.2L3224.5 614L3220.3 641.5L3212.8 668.7L3201.9 695.3L3191.7 720.6Z" fill="#327cb7"/>
<path d="M3170.4 745L3154.2 767.7L3146.3 789.9L3140 811.7L3138.4 834.1L3136.1 856.5L3135.3 879.5L3131.1 901.9L3122.6 923.1L3111.1 942.9L3096 960.7L3077.5 976.2L3057 989.6L3033.1 999.7L3008.1 1007.4L2979.4 1010.5L2949.4 1010.2L2918.9 1006.6L2893.3 1004.9L2869.2 1002.3L2847.6 1000.2L2827.5 997.9L2810.2 997.6L2794.9 998.5L2781.6 1001.7L2770.1 1007.6L2760 1016.5L2750 1026.5L2739.4 1036.3L2728.1 1045.2L2716 1053.2L2702.6 1057.1L2688.8 1059.5L2674.9 1060.3L2660.9 1059.7L2647.1 1058.4L2633.4 1056.8L2619.7 1058.5L2605.9 1059.7L2591.9 1060.3L2578 1059.5L2564.2 1057.1L2550.8 1053.2L2538.7 1045.2L2527.4 1036.3L2516.8 1026.5L2506.8 1016.5L2496.7 1007.6L2485.2 1001.7L2471.9 998.5L2456.6 997.6L2439.3 997.9L2419.2 1000.2L2397.6 1002.3L2373.5 1004.9L2347.9 1006.6L2317.4 1010.2L2287.4 1010.5L2258.7 1007.4L2233.7 999.7L2209.8 989.6L2189.3 976.2L2170.8 960.7L2155.7 942.9L2144.2 923.1L2135.7 901.9L2131.5 879.5L2130.7 856.5L2128.4 834.1L2126.8 811.7L2120.5 789.9L2112.6 767.7L2096.4 745L2086.5 721.1L2076.6 696.3L2065.9 670.3L2058.5 643.6L2054.5 616.7L2049.4 588.5L2047.5 560.3L2054.2 534.2L2070.1 511.7L2090.3 491.7L2118 476.7L2142.5 461.6L2171.8 450.9L2198.7 440.6L2227.5 433.5L2252.5 425.4L2280.9 422L2303.2 414.8L2329.8 413.7L2350.4 407.7L2373.7 406.6L2394.4 403.6L2415.3 402.6L2434.2 400L2452.9 398.2L2471.5 397.9L2488.4 394.8L2506 395L2522.1 391.9L2538.9 392.5L2555 391.5L2571 391.1L2587 392.2L2602.4 390.2L2618 392.8L2633.4 389.1L2648.8 392.8L2664.4 390.2L2679.8 392.2L2695.8 391.1L2711.8 391.5L2727.9 392.5L2744.7 391.9L2760.8 395L2778.4 394.8L2795.3 397.9L2813.9 398.2L2832.6 400L2851.5 402.6L2872.4 403.6L2893.1 406.6L2916.4 407.7L2937 413.7L2963.6 414.8L2985.9 422L3014.3 425.4L3039.3 433.5L3068.1 440.6L3095 450.9L3124.3 461.6L3148.8 476.7L3176.5 491.7L3196.7 511.7L3212.6 534.2L3219.3 560.3L3217.4 588.5L3212.3 616.7L3208.3 643.6L3200.9 670.3L3190.2 696.3L3180.3 721.1Z" fill="#347db8"/>
<path d="M3159.2 745L3143.3 767.3L3135.5 788.9L3129.4 810.3L3127.9 832.2L3125.6 854.1L3124.8 876.7L3120.7 898.7L3112.4 919.3L3101.1 938.7L3086.4 956.2L3068.2 971.4L3048.1 984.4L3024.8 994.3L3000.3 1001.9L2972.2 1005L2942.8 1004.6L2912.9 1001.1L2887.9 999.5L2864.2 996.9L2843.1 994.9L2823.4 992.6L2806.5 992.3L2791.5 993.2L2778.5 996.3L2767.2 1002.1L2757.4 1010.8L2747.6 1020.6L2737.2 1030.2L2726.1 1038.9L2714.3 1046.8L2701.1 1050.5L2687.7 1052.9L2674 1053.7L2660.4 1053.1L2646.8 1051.9L2633.4 1050.3L2620 1051.9L2606.4 1053.1L2592.8 1053.7L2579.1 1052.9L2565.7 1050.5L2552.5 1046.8L2540.7 1038.9L2529.6 1030.2L2519.2 1020.6L2509.4 1010.8L2499.6 1002.1L2488.3 996.3L2475.3 993.2L2460.3 992.3L2443.4 992.6L2423.7 994.9L2402.6 996.9L2378.9 999.5L2353.9 1001.1L2324 1004.6L2294.6 1005L2266.5 1001.9L2242 994.3L2218.7 984.4L2198.6 971.4L2180.4 956.2L2165.7 938.7L2154.4 919.3L2146.1 898.7L2142 876.7L2141.2 854.1L2138.9 832.2L2137.4 810.3L2131.3 788.9L2123.5 767.3L2107.6 745L2098 721.6L2088.2 697.3L2077.8 671.9L2070.6 645.8L2066.6 619.3L2061.6 591.8L2059.8 564.1L2066.4 538.6L2081.9 516.6L2101.6 497L2128.8 482.3L2152.8 467.5L2181.4 457.1L2207.8 447L2236 440L2260.4 432.1L2288.3 428.7L2310.1 421.7L2336.2 420.6L2356.3 414.8L2379.2 413.7L2399.4 410.8L2419.8 409.8L2438.4 407.3L2456.6 405.4L2474.9 405.2L2491.4 402.2L2508.7 402.3L2524.4 399.3L2540.9 399.8L2556.7 398.9L2572.3 398.5L2587.9 399.6L2603 397.6L2618.3 400.2L2633.4 396.5L2648.5 400.1L2663.8 397.6L2678.9 399.6L2694.5 398.5L2710.1 398.9L2725.9 399.8L2742.4 399.3L2758.1 402.3L2775.4 402.2L2791.9 405.2L2810.2 405.4L2828.4 407.3L2847 409.8L2867.4 410.8L2887.6 413.7L2910.5 414.8L2930.6 420.6L2956.7 421.7L2978.5 428.7L3006.4 432.1L3030.8 440L3059 447L3085.4 457.1L3114 467.5L3138 482.3L3165.2 497L3184.9 516.6L3200.4 538.6L3207 564.1L3205.2 591.8L3200.2 619.3L3196.2 645.8L3189 671.9L3178.6 697.3L3168.8 721.6Z" fill="#357eb9"/>
<path d="M3147.9 745L3132.4 766.8L3124.8 788L3118.8 808.9L3117.3 830.3L3115.1 851.8L3114.2 873.8L3110.3 895.4L3102.1 915.6L3091.1 934.6L3076.7 951.7L3058.9 966.5L3039.3 979.3L3016.4 989L2992.4 996.4L2964.9 999.4L2936.2 999.1L2906.9 995.6L2882.4 994L2859.3 991.5L2838.6 989.5L2819.3 987.3L2802.8 987L2788.1 987.9L2775.4 990.9L2764.4 996.6L2754.7 1005.1L2745.1 1014.7L2735 1024.1L2724.1 1032.6L2712.5 1040.3L2699.7 1044L2686.5 1046.3L2673.2 1047.1L2659.8 1046.5L2646.5 1045.3L2633.4 1043.7L2620.3 1045.3L2607 1046.5L2593.6 1047.1L2580.3 1046.3L2567.1 1044L2554.3 1040.3L2542.7 1032.6L2531.8 1024.1L2521.7 1014.7L2512.1 1005.1L2502.4 996.6L2491.4 990.9L2478.7 987.9L2464 987L2447.5 987.3L2428.2 989.5L2407.5 991.5L2384.4 994L2359.9 995.6L2330.6 999.1L2301.9 999.4L2274.4 996.4L2250.4 989L2227.5 979.3L2207.9 966.5L2190.1 951.7L2175.7 934.6L2164.7 915.6L2156.5 895.4L2152.6 873.8L2151.7 851.8L2149.5 830.3L2148 808.9L2142 788L2134.4 766.8L2118.9 745L2109.4 722.1L2099.9 698.3L2089.7 673.4L2082.6 647.9L2078.7 622L2073.8 595.1L2072 568L2078.5 543L2093.7 521.5L2113 502.3L2139.6 487.9L2163 473.4L2191.1 463.2L2216.9 453.4L2244.5 446.6L2268.4 438.7L2295.6 435.5L2317 428.6L2342.5 427.6L2362.3 421.9L2384.6 420.8L2404.4 417.9L2424.4 417L2442.6 414.5L2460.4 412.7L2478.3 412.4L2494.4 409.5L2511.3 409.7L2526.7 406.7L2542.9 407.2L2558.3 406.3L2573.6 405.9L2588.9 407L2603.7 405.1L2618.7 407.5L2633.4 404L2648.1 407.5L2663.1 405.1L2677.9 407L2693.2 405.9L2708.5 406.3L2723.9 407.2L2740.1 406.7L2755.5 409.7L2772.4 409.5L2788.5 412.4L2806.4 412.7L2824.2 414.5L2842.4 417L2862.4 417.9L2882.2 420.8L2904.5 421.9L2924.3 427.6L2949.8 428.6L2971.2 435.5L2998.4 438.7L3022.3 446.6L3049.9 453.4L3075.7 463.2L3103.8 473.4L3127.2 487.9L3153.8 502.3L3173.1 521.5L3188.3 543L3194.8 568L3193 595.1L3188.1 622L3184.2 647.9L3177.1 673.4L3166.9 698.3L3157.4 722.1Z" fill="#377fb9"/>
<path d="M3136.7 745L3121.5 766.3L3114 787.1L3108.2 807.5L3106.7 828.5L3104.5 849.5L3103.7 871L3099.9 892.1L3091.9 911.9L3081.1 930.4L3067 947.2L3049.6 961.7L3030.4 974.2L3008 983.7L2984.6 990.9L2957.7 993.8L2929.5 993.5L2900.9 990.2L2877 988.6L2854.4 986.1L2834.1 984.2L2815.3 982L2799.1 981.7L2784.7 982.6L2772.3 985.6L2761.5 991.1L2752 999.4L2742.7 1008.8L2732.8 1018L2722.1 1026.3L2710.8 1033.9L2698.2 1037.4L2685.4 1039.7L2672.3 1040.5L2659.2 1040L2646.2 1038.7L2633.4 1037.2L2620.6 1038.8L2607.6 1040L2594.5 1040.5L2581.4 1039.7L2568.6 1037.4L2556 1033.9L2544.7 1026.3L2534 1018L2524.1 1008.8L2514.8 999.4L2505.3 991.1L2494.5 985.6L2482.1 982.6L2467.7 981.7L2451.5 982L2432.7 984.2L2412.4 986.1L2389.8 988.6L2365.9 990.2L2337.3 993.5L2309.1 993.8L2282.2 990.9L2258.8 983.7L2236.4 974.2L2217.2 961.7L2199.8 947.2L2185.7 930.4L2174.9 911.9L2166.9 892.1L2163.1 871L2162.3 849.5L2160.1 828.5L2158.6 807.5L2152.8 787.1L2145.3 766.3L2130.1 745L2120.9 722.6L2111.6 699.3L2101.6 675L2094.7 650L2090.8 624.7L2086.1 598.3L2084.3 571.9L2090.6 547.4L2105.5 526.3L2124.4 507.6L2150.4 493.5L2173.3 479.4L2200.8 469.4L2226 459.7L2253 453.1L2276.4 445.4L2303 442.3L2323.9 435.5L2348.9 434.5L2368.2 428.9L2390.1 427.9L2409.4 425.1L2429 424.1L2446.8 421.7L2464.2 420L2481.7 419.7L2497.5 416.8L2514 417L2529.1 414.1L2544.9 414.6L2560 413.7L2574.9 413.3L2589.9 414.4L2604.3 412.5L2619 414.9L2633.4 411.4L2647.8 414.9L2662.5 412.5L2676.9 414.4L2691.9 413.3L2706.8 413.7L2721.9 414.6L2737.7 414.1L2752.8 417L2769.3 416.8L2785.1 419.7L2802.6 420L2820 421.7L2837.8 424.1L2857.4 425.1L2876.7 427.9L2898.6 428.9L2917.9 434.5L2942.9 435.5L2963.8 442.3L2990.4 445.4L3013.8 453.1L3040.8 459.7L3066 469.4L3093.5 479.4L3116.4 493.5L3142.4 507.6L3161.3 526.3L3176.2 547.4L3182.5 571.9L3180.7 598.3L3176 624.7L3172.1 650L3165.2 675L3155.2 699.3L3145.9 722.6Z" fill="#3880ba"/>
<path d="M3125.4 745L3110.6 765.8L3103.3 786.1L3097.6 806.1L3096.1 826.6L3094 847.1L3093.2 868.2L3089.4 888.8L3081.6 908.1L3071.1 926.3L3057.3 942.7L3040.3 956.8L3021.5 969.1L2999.7 978.3L2976.8 985.4L2950.4 988.3L2922.9 987.9L2895 984.7L2871.5 983.1L2849.4 980.8L2829.6 978.8L2811.2 976.7L2795.4 976.4L2781.4 977.3L2769.2 980.2L2758.6 985.6L2749.4 993.8L2740.2 1002.9L2730.6 1011.9L2720.1 1020L2709.1 1027.4L2696.8 1030.9L2684.2 1033.1L2671.4 1033.9L2658.6 1033.4L2645.9 1032.2L2633.4 1030.7L2620.9 1032.2L2608.2 1033.4L2595.4 1033.9L2582.6 1033.1L2570 1030.9L2557.7 1027.4L2546.7 1020L2536.2 1011.9L2526.6 1002.9L2517.4 993.8L2508.2 985.6L2497.6 980.2L2485.4 977.3L2471.4 976.4L2455.6 976.7L2437.2 978.8L2417.4 980.8L2395.3 983.1L2371.8 984.7L2343.9 987.9L2316.4 988.3L2290 985.4L2267.1 978.3L2245.3 969.1L2226.5 956.8L2209.5 942.7L2195.7 926.3L2185.2 908.1L2177.4 888.8L2173.6 868.2L2172.8 847.1L2170.7 826.6L2169.2 806.1L2163.5 786.1L2156.2 765.8L2141.4 745L2132.3 723.1L2123.2 700.4L2113.4 676.5L2106.7 652.1L2103 627.4L2098.3 601.6L2096.6 575.7L2102.7 551.9L2117.3 531.2L2135.8 512.9L2161.2 499.2L2183.6 485.3L2210.5 475.6L2235.1 466.1L2261.5 459.6L2284.4 452.1L2310.4 449L2330.8 442.4L2355.3 441.5L2374.1 436L2395.5 434.9L2414.4 432.2L2433.6 431.3L2450.9 428.9L2468 427.2L2485.1 427L2500.5 424.2L2516.7 424.3L2531.4 421.5L2546.9 422L2561.6 421.2L2576.2 420.7L2590.8 421.8L2605 419.9L2619.3 422.3L2633.4 418.9L2647.5 422.3L2661.8 419.9L2676 421.8L2690.6 420.7L2705.2 421.2L2719.9 422L2735.4 421.5L2750.1 424.3L2766.3 424.2L2781.7 427L2798.8 427.2L2815.9 428.9L2833.2 431.3L2852.4 432.2L2871.3 434.9L2892.7 436L2911.5 441.5L2936 442.4L2956.4 449L2982.4 452.1L3005.3 459.6L3031.7 466.1L3056.3 475.6L3083.2 485.3L3105.6 499.2L3131 512.9L3149.5 531.2L3164.1 551.9L3170.2 575.7L3168.5 601.6L3163.8 627.4L3160.1 652.1L3153.4 676.5L3143.6 700.4L3134.5 723.1Z" fill="#3a81bb"/>
<path d="M3103.8 745L3090 764.9L3082.9 784.3L3077.4 803.4L3075.7 823L3073.4 842.5L3072.4 862.6L3068.7 882.3L3061.3 900.8L3051.4 918.1L3038.5 933.9L3022.7 947.6L3005.1 959.6L2984.7 968.8L2963.3 976L2938.8 979.3L2913 979.6L2886.9 977.2L2864.7 976.3L2843.7 974.5L2824.8 973.1L2807.2 971.5L2791.9 971.4L2778.3 972.4L2766.3 975.2L2755.8 980.2L2746.6 987.7L2737.4 996.1L2727.8 1004.2L2717.4 1011.5L2706.6 1018.1L2694.6 1021.2L2682.4 1023.1L2670.1 1023.7L2657.7 1023.2L2645.5 1022L2633.4 1020.6L2621.3 1022L2609.1 1023.2L2596.7 1023.7L2584.4 1023.1L2572.2 1021.2L2560.2 1018.1L2549.4 1011.5L2539 1004.2L2529.4 996.1L2520.2 987.7L2511 980.2L2500.5 975.2L2488.5 972.4L2474.9 971.4L2459.6 971.5L2442 973.1L2423.1 974.5L2402.1 976.3L2379.9 977.2L2353.8 979.6L2328 979.3L2303.5 976L2282.1 968.8L2261.7 959.6L2244.1 947.6L2228.3 933.9L2215.4 918.1L2205.5 900.8L2198.1 882.3L2194.4 862.6L2193.4 842.5L2191.1 823L2189.4 803.4L2183.9 784.3L2176.8 764.9L2163 745L2154.3 724.1L2145.5 702.3L2136.1 679.5L2129.3 656.1L2125.1 632.3L2120.9 607.7L2119.7 583L2126.4 560.5L2140.7 540.9L2158.4 523.5L2182.3 510.2L2202.7 496.3L2226.2 485.6L2248.9 475.8L2273.5 468.9L2295.2 461.2L2319.7 457.6L2339.4 451L2362.7 449.6L2381 444.2L2401.6 442.9L2419.9 440.1L2438.5 439L2455.4 436.6L2472 434.9L2488.6 434.5L2503.7 431.8L2519.4 431.9L2533.9 429.3L2548.9 429.7L2563.3 428.8L2577.6 428.4L2591.8 429.3L2605.6 427.6L2619.6 429.8L2633.4 426.6L2647.2 429.7L2661.2 427.6L2675 429.3L2689.2 428.4L2703.5 428.8L2717.9 429.7L2732.9 429.3L2747.4 431.9L2763.1 431.8L2778.2 434.5L2794.8 434.9L2811.4 436.6L2828.3 439L2846.9 440.1L2865.2 442.9L2885.8 444.2L2904.1 449.6L2927.4 451L2947.1 457.6L2971.6 461.2L2993.3 468.9L3017.9 475.8L3040.6 485.6L3064.1 496.3L3084.5 510.2L3108.4 523.5L3126.1 540.9L3140.4 560.5L3147.1 583L3145.9 607.7L3141.7 632.3L3137.5 656.1L3130.7 679.5L3121.3 702.3L3112.5 724.1Z" fill="#3e83bc"/>
<path d="M3082.2 745L3069.3 764L3062.6 782.5L3057.2 800.8L3055.2 819.4L3052.8 838L3051.6 857.1L3048 875.7L3041 893.4L3031.7 910L3019.7 925.1L3005 938.4L2988.6 950.1L2969.7 959.2L2949.8 966.6L2927.1 970.3L2903.1 971.3L2878.7 969.8L2857.9 969.5L2838 968.3L2820 967.4L2803.2 966.3L2788.5 966.5L2775.2 967.5L2763.4 970.2L2753 974.8L2743.8 981.7L2734.6 989.2L2724.9 996.5L2714.7 1003L2704.1 1008.8L2692.5 1011.5L2680.7 1013.1L2668.8 1013.6L2656.8 1012.9L2645.1 1011.9L2633.4 1010.5L2621.7 1011.9L2610 1012.9L2598 1013.6L2586.1 1013.1L2574.3 1011.5L2562.7 1008.8L2552.1 1003L2541.9 996.5L2532.2 989.2L2523 981.7L2513.8 974.8L2503.4 970.2L2491.6 967.5L2478.3 966.5L2463.6 966.3L2446.8 967.4L2428.8 968.3L2408.9 969.5L2388.1 969.8L2363.7 971.3L2339.7 970.3L2317 966.6L2297.1 959.2L2278.2 950.1L2261.8 938.4L2247.1 925.1L2235.1 910L2225.8 893.4L2218.8 875.7L2215.2 857.1L2214 838L2211.6 819.4L2209.6 800.8L2204.2 782.5L2197.5 764L2184.6 745L2176.3 725L2167.8 704.3L2158.7 682.5L2151.8 660.1L2147.2 637.2L2143.5 613.7L2142.9 590.3L2150 569.1L2164.1 550.6L2181 534.1L2203.4 521.2L2221.8 507.4L2242 495.6L2262.7 485.5L2285.6 478.1L2305.9 470.2L2329.1 466.1L2348 459.6L2370.2 457.7L2387.9 452.4L2407.7 450.8L2425.4 448L2443.4 446.8L2459.8 444.3L2475.9 442.5L2492.1 441.9L2506.8 439.5L2522.2 439.5L2536.3 437.1L2551 437.3L2565 436.5L2578.9 436.1L2592.8 436.8L2606.3 435.4L2620 437.2L2633.4 434.3L2646.8 437.2L2660.5 435.4L2674 436.8L2687.9 436.1L2701.8 436.5L2715.8 437.3L2730.5 437.1L2744.6 439.5L2760 439.5L2774.7 441.9L2790.9 442.5L2807 444.3L2823.4 446.8L2841.4 448L2859.1 450.8L2878.9 452.4L2896.6 457.7L2918.8 459.6L2937.7 466.1L2960.9 470.2L2981.2 478.1L3004.1 485.5L3024.8 495.6L3045 507.4L3063.4 521.2L3085.8 534.1L3102.7 550.6L3116.8 569.1L3123.9 590.3L3123.3 613.7L3119.6 637.2L3115 660.1L3108.1 682.5L3099 704.3L3090.5 725Z" fill="#4286be"/>
<path d="M3060.6 745L3048.7 763.1L3042.2 780.8L3037 798.1L3034.8 815.8L3032.2 833.4L3030.8 851.5L3027.3 869.2L3020.7 886L3012.1 901.9L3000.9 916.4L2987.3 929.2L2972.2 940.6L2954.7 949.7L2936.4 957.1L2915.4 961.4L2893.2 963L2870.6 962.4L2851.1 962.7L2832.3 962.1L2815.2 961.6L2799.2 961L2785 961.5L2772.1 962.7L2760.5 965.2L2750.2 969.5L2740.9 975.6L2731.7 982.4L2722.1 988.8L2712 994.4L2701.6 999.4L2690.3 1001.7L2678.9 1003.1L2667.4 1003.4L2655.9 1002.7L2644.6 1001.7L2633.4 1000.4L2622.2 1001.7L2610.9 1002.7L2599.4 1003.4L2587.9 1003.1L2576.5 1001.7L2565.2 999.4L2554.8 994.4L2544.7 988.8L2535.1 982.4L2525.9 975.6L2516.6 969.5L2506.3 965.2L2494.7 962.7L2481.8 961.5L2467.6 961L2451.6 961.6L2434.5 962.1L2415.7 962.7L2396.2 962.4L2373.6 963L2351.4 961.4L2330.4 957.1L2312.1 949.7L2294.6 940.6L2279.5 929.2L2265.9 916.4L2254.7 901.9L2246.1 886L2239.5 869.2L2236 851.5L2234.6 833.4L2232 815.8L2229.8 798.1L2224.6 780.8L2218.1 763.1L2206.2 745L2198.3 726L2190.1 706.2L2181.3 685.5L2174.4 664.1L2169.3 642.1L2166.1 619.8L2166 597.6L2173.6 577.7L2187.5 560.3L2203.7 544.6L2224.6 532.2L2240.9 518.4L2257.7 505.7L2276.6 495.1L2297.6 487.4L2316.7 479.3L2338.4 474.7L2356.6 468.2L2377.6 465.9L2394.8 460.6L2413.8 458.7L2431 455.9L2448.4 454.5L2464.2 452L2479.9 450.1L2495.6 449.4L2510 447.1L2525 447.1L2538.8 444.9L2553 445L2566.7 444.2L2580.3 443.7L2593.8 444.3L2607 443.1L2620.3 444.7L2633.4 442L2646.5 444.7L2659.8 443.1L2673 444.3L2686.5 443.7L2700.1 444.2L2713.8 445L2728 444.9L2741.8 447.1L2756.8 447.1L2771.2 449.4L2786.9 450.1L2802.6 452L2818.4 454.5L2835.8 455.9L2853 458.7L2872 460.6L2889.2 465.9L2910.2 468.2L2928.4 474.7L2950.1 479.3L2969.2 487.4L2990.2 495.1L3009.1 505.7L3025.9 518.4L3042.2 532.2L3063.1 544.6L3079.3 560.3L3093.2 577.7L3100.8 597.6L3100.7 619.8L3097.5 642.1L3092.4 664.1L3085.5 685.5L3076.7 706.2L3068.5 726Z" fill="#4588bf"/>
<path d="M3039 745L3028.1 762.2L3021.9 779L3016.8 795.5L3014.3 812.2L3011.6 828.8L3010 845.9L3006.6 862.7L3000.5 878.6L2992.4 893.7L2982.1 907.6L2969.7 920L2955.7 931.1L2939.7 940.2L2922.9 947.7L2903.7 952.4L2883.3 954.7L2862.5 954.9L2844.3 955.9L2826.6 955.8L2810.4 955.9L2795.1 955.8L2781.5 956.5L2769 957.8L2757.6 960.2L2747.4 964.1L2738.1 969.6L2728.9 975.6L2719.3 981.1L2709.3 985.9L2699.1 990.1L2688.2 992L2677.1 993L2666.1 993.2L2655.1 992.5L2644.2 991.5L2633.4 990.4L2622.6 991.5L2611.7 992.5L2600.7 993.2L2589.7 993L2578.6 992L2567.7 990.1L2557.5 985.9L2547.5 981.1L2537.9 975.6L2528.7 969.6L2519.4 964.1L2509.2 960.2L2497.8 957.8L2485.3 956.5L2471.7 955.8L2456.4 955.9L2440.2 955.8L2422.5 955.9L2404.3 954.9L2383.5 954.7L2363.1 952.4L2343.9 947.7L2327.1 940.2L2311.1 931.1L2297.1 920L2284.7 907.6L2274.4 893.7L2266.3 878.6L2260.2 862.7L2256.8 845.9L2255.2 828.8L2252.5 812.2L2250 795.5L2244.9 779L2238.7 762.2L2227.8 745L2220.2 727L2212.4 708.2L2203.9 688.5L2197 668L2191.4 647L2188.7 625.8L2189.1 604.9L2197.2 586.2L2210.9 570L2226.3 555.2L2245.7 543.2L2260 529.4L2273.5 515.7L2290.4 504.8L2309.7 496.6L2327.5 488.3L2347.8 483.3L2365.2 476.8L2385.1 474L2401.7 468.9L2419.8 466.7L2436.5 463.8L2453.3 462.3L2468.6 459.6L2483.9 457.8L2499.1 456.9L2513.2 454.8L2527.8 454.7L2541.2 452.7L2555.1 452.7L2568.4 451.9L2581.6 451.4L2594.8 451.8L2607.7 450.8L2620.6 452.2L2633.4 449.6L2646.2 452.1L2659.1 450.8L2672 451.8L2685.2 451.4L2698.4 451.9L2711.7 452.7L2725.6 452.7L2739 454.7L2753.6 454.8L2767.7 456.9L2782.9 457.8L2798.2 459.6L2813.5 462.3L2830.3 463.8L2847 466.7L2865.1 468.9L2881.7 474L2901.6 476.8L2919 483.3L2939.3 488.3L2957.1 496.6L2976.4 504.8L2993.3 515.7L3006.8 529.4L3021.1 543.2L3040.5 555.2L3055.9 570L3069.6 586.2L3077.7 604.9L3078.1 625.8L3075.4 647L3069.8 668L3062.9 688.5L3054.4 708.2L3046.6 727Z" fill="#498bc1"/>
<path d="M3017.4 745L3007.5 761.3L3001.5 777.2L2996.6 792.8L2993.9 808.6L2991 824.3L2989.1 840.3L2985.9 856.1L2980.2 871.2L2972.8 885.6L2963.3 898.9L2952 910.9L2939.2 921.6L2924.8 930.6L2909.5 938.3L2892 943.5L2873.4 946.4L2854.4 947.5L2837.5 949.1L2820.9 949.6L2805.6 950.2L2791.1 950.6L2778 951.5L2765.9 952.9L2754.7 955.2L2744.6 958.7L2735.3 963.5L2726.1 968.7L2716.5 973.4L2706.7 977.3L2696.6 980.8L2686 982.3L2675.4 983L2664.7 983L2654.2 982.3L2643.7 981.4L2633.4 980.3L2623.1 981.4L2612.6 982.3L2602.1 983L2591.4 983L2580.8 982.3L2570.2 980.8L2560.1 977.3L2550.3 973.4L2540.7 968.7L2531.5 963.5L2522.2 958.7L2512.1 955.2L2500.9 952.9L2488.8 951.5L2475.7 950.6L2461.2 950.2L2445.9 949.6L2429.3 949.1L2412.4 947.5L2393.4 946.4L2374.8 943.5L2357.3 938.3L2342 930.6L2327.6 921.6L2314.8 910.9L2303.5 898.9L2294 885.6L2286.6 871.2L2280.9 856.1L2277.7 840.3L2275.8 824.3L2272.9 808.6L2270.2 792.8L2265.3 777.2L2259.3 761.3L2249.4 745L2242.2 727.9L2234.7 710.1L2226.5 691.4L2219.5 672L2213.5 651.9L2211.3 631.9L2212.3 612.2L2220.9 594.8L2234.3 579.7L2248.9 565.7L2266.9 554.2L2279.2 540.5L2289.2 525.7L2304.2 514.5L2321.7 505.9L2338.2 497.3L2357.1 491.8L2373.8 485.4L2392.5 482.2L2408.6 477.1L2425.9 474.6L2442 471.7L2458.2 470L2473.1 467.3L2487.9 465.4L2502.6 464.4L2516.4 462.4L2530.5 462.3L2543.7 460.5L2557.1 460.4L2570.1 459.6L2583 459.1L2595.8 459.3L2608.3 458.5L2620.9 459.6L2633.4 457.3L2645.9 459.6L2658.5 458.5L2671 459.3L2683.8 459.1L2696.7 459.6L2709.7 460.4L2723.1 460.5L2736.3 462.3L2750.4 462.4L2764.2 464.4L2778.9 465.4L2793.7 467.3L2808.6 470L2824.8 471.7L2840.9 474.6L2858.2 477.1L2874.3 482.2L2893 485.4L2909.7 491.8L2928.6 497.3L2945.1 505.9L2962.6 514.5L2977.6 525.7L2987.6 540.5L2999.9 554.2L3017.9 565.7L3032.5 579.7L3045.9 594.8L3054.5 612.2L3055.5 631.9L3053.3 651.9L3047.3 672L3040.3 691.4L3032.1 710.1L3024.6 727.9Z" fill="#4d8dc2"/>
<path d="M2995.7 745L2986.9 760.4L2981.1 775.4L2976.4 790.2L2973.4 805L2970.4 819.7L2968.3 834.7L2965.1 849.6L2959.9 863.8L2953.1 877.4L2944.6 890.1L2934.3 901.7L2922.8 912.1L2909.8 921.1L2896 928.9L2880.3 934.5L2863.5 938L2846.3 940.1L2830.7 942.3L2815.2 943.4L2800.7 944.4L2787.1 945.3L2774.5 946.6L2762.8 948.1L2751.8 950.2L2741.8 953.3L2732.5 957.5L2723.2 961.9L2713.7 965.7L2704 968.8L2694.1 971.5L2683.8 972.5L2673.6 973L2663.4 972.8L2653.3 972.1L2643.3 971.2L2633.4 970.2L2623.5 971.2L2613.5 972.1L2603.4 972.8L2593.2 973L2583 972.5L2572.7 971.5L2562.8 968.8L2553.1 965.7L2543.6 961.9L2534.3 957.5L2525 953.3L2515 950.2L2504 948.1L2492.3 946.6L2479.7 945.3L2466.1 944.4L2451.6 943.4L2436.1 942.3L2420.5 940.1L2403.3 938L2386.5 934.5L2370.8 928.9L2357 921.1L2344 912.1L2332.5 901.7L2322.2 890.1L2313.7 877.4L2306.9 863.8L2301.7 849.6L2298.5 834.7L2296.4 819.7L2293.4 805L2290.4 790.2L2285.7 775.4L2279.9 760.4L2271.1 745L2264.2 728.9L2257 712.1L2249.1 694.4L2242.1 676L2235.6 656.8L2233.9 637.9L2235.4 619.5L2244.5 603.4L2257.6 589.4L2271.6 576.3L2288 565.2L2298.3 551.5L2305 535.8L2318 524.2L2333.8 515.1L2349 506.4L2366.4 500.4L2382.4 494L2400 490.3L2415.5 485.3L2432 482.5L2447.6 479.6L2463.2 477.8L2477.5 475L2491.8 473.1L2506.1 471.9L2519.5 470.1L2533.3 470L2546.2 468.3L2559.2 468L2571.8 467.3L2584.3 466.7L2596.8 466.8L2609 466.2L2621.3 467.1L2633.4 465L2645.5 467.1L2657.8 466.2L2670 466.8L2682.5 466.7L2695 467.3L2707.6 468L2720.6 468.3L2733.5 470L2747.3 470.1L2760.7 471.9L2775 473.1L2789.3 475L2803.6 477.8L2819.2 479.6L2834.8 482.5L2851.3 485.3L2866.8 490.3L2884.4 494L2900.4 500.4L2917.8 506.4L2933 515.1L2948.8 524.2L2961.8 535.8L2968.5 551.5L2978.8 565.2L2995.2 576.3L3009.2 589.4L3022.3 603.4L3031.4 619.5L3032.9 637.9L3031.2 656.8L3024.7 676L3017.7 694.4L3009.8 712.1L3002.6 728.9Z" fill="#518fc3"/>
<path d="M2974.1 745L2966.2 759.5L2960.8 773.6L2956.2 787.5L2953 801.3L2949.8 815.1L2947.5 829.2L2944.4 843.1L2939.6 856.4L2933.5 869.3L2925.8 881.3L2916.7 892.5L2906.3 902.6L2894.8 911.5L2882.5 919.4L2868.7 925.5L2853.5 929.7L2838.2 932.6L2823.8 935.4L2809.5 937.1L2795.9 938.7L2783.1 940.1L2771.1 941.6L2759.7 943.2L2749 945.1L2739 947.9L2729.7 951.5L2720.4 955.1L2710.9 958L2701.3 960.3L2691.6 962.1L2681.7 962.8L2671.8 963L2662.1 962.6L2652.4 961.9L2642.8 961L2633.4 960.1L2624 961.1L2614.4 961.9L2604.7 962.6L2595 963L2585.1 962.8L2575.2 962.1L2565.5 960.3L2555.9 958L2546.4 955.1L2537.1 951.5L2527.8 947.9L2517.8 945.1L2507.1 943.2L2495.7 941.6L2483.7 940.1L2470.9 938.7L2457.3 937.1L2443 935.4L2428.6 932.6L2413.3 929.7L2398.1 925.5L2384.3 919.4L2372 911.5L2360.5 902.6L2350.1 892.5L2341 881.3L2333.3 869.3L2327.2 856.4L2322.4 843.1L2319.3 829.2L2317 815.1L2313.8 801.3L2310.6 787.5L2306 773.6L2300.6 759.5L2292.7 745L2286.2 729.8L2279.3 714L2271.7 697.4L2264.7 680L2257.7 661.7L2256.5 644L2258.6 626.8L2268.1 612L2281 599L2294.2 586.8L2309.2 576.2L2317.4 562.5L2320.7 545.8L2331.9 533.9L2345.9 524.4L2359.8 515.4L2375.8 508.9L2391 502.6L2407.5 498.4L2422.4 493.5L2438.1 490.5L2453.1 487.5L2468.1 485.5L2481.9 482.6L2495.8 480.7L2509.5 479.4L2522.7 477.7L2536.1 477.6L2548.6 476.1L2561.2 475.7L2573.5 475L2585.7 474.4L2597.8 474.3L2609.7 473.9L2621.6 474.6L2633.4 472.7L2645.2 474.5L2657.1 473.9L2669 474.3L2681.1 474.4L2693.3 475L2705.6 475.7L2718.2 476.1L2730.7 477.6L2744.1 477.7L2757.3 479.4L2771 480.7L2784.9 482.6L2798.7 485.5L2813.7 487.5L2828.7 490.5L2844.4 493.5L2859.3 498.4L2875.8 502.6L2891 508.9L2907 515.4L2920.9 524.4L2934.9 533.9L2946.1 545.8L2949.4 562.5L2957.6 576.2L2972.6 586.8L2985.8 599L2998.7 612L3008.2 626.8L3010.3 644L3009.1 661.7L3002.1 680L2995.1 697.4L2987.5 714L2980.6 729.8Z" fill="#5592c5"/>
<path d="M2952.5 745L2945.6 758.6L2940.4 771.9L2936 784.8L2932.5 797.7L2929.1 810.6L2926.7 823.6L2923.7 836.5L2919.3 849L2913.8 861.1L2907 872.6L2899 883.3L2889.9 893.1L2879.8 902L2869.1 910L2857 916.6L2843.6 921.4L2830.1 925.2L2817 928.6L2803.7 930.9L2791.1 933L2779.1 934.9L2767.6 936.6L2756.6 938.3L2746.1 940.1L2736.2 942.6L2726.9 945.4L2717.6 948.2L2708.1 950.3L2698.6 951.7L2689.1 952.8L2679.5 953.1L2670.1 952.9L2660.7 952.5L2651.5 951.7L2642.4 950.9L2633.4 950L2624.4 950.9L2615.3 951.7L2606.1 952.5L2596.7 952.9L2587.3 953.1L2577.7 952.8L2568.2 951.7L2558.7 950.3L2549.2 948.2L2539.9 945.4L2530.6 942.6L2520.7 940.1L2510.2 938.3L2499.2 936.6L2487.7 934.9L2475.7 933L2463.1 930.9L2449.8 928.6L2436.7 925.2L2423.2 921.4L2409.8 916.6L2397.7 910L2387 902L2376.9 893.1L2367.8 883.3L2359.8 872.6L2353 861.1L2347.5 849L2343.1 836.5L2340.1 823.6L2337.7 810.6L2334.3 797.7L2330.8 784.8L2326.4 771.9L2321.2 758.6L2314.3 745L2308.1 730.8L2301.6 716L2294.3 700.4L2287.2 684L2279.9 666.6L2279.1 650.1L2281.7 634.1L2291.7 620.6L2304.4 608.7L2316.9 597.4L2330.3 587.2L2336.5 573.6L2336.5 555.9L2345.7 543.5L2357.9 533.6L2370.6 524.5L2385.1 517.5L2399.6 511.2L2414.9 506.6L2429.3 501.7L2444.2 498.4L2458.6 495.4L2473 493.2L2486.4 490.3L2499.8 488.3L2513 486.9L2525.9 485.4L2538.8 485.2L2551.1 483.9L2563.3 483.4L2575.2 482.6L2587 482L2598.7 481.8L2610.4 481.6L2621.9 482L2633.4 480.4L2644.9 482L2656.4 481.6L2668.1 481.8L2679.8 482L2691.6 482.6L2703.5 483.4L2715.7 483.9L2728 485.2L2740.9 485.4L2753.8 486.9L2767 488.3L2780.4 490.3L2793.8 493.2L2808.2 495.4L2822.6 498.4L2837.5 501.7L2851.9 506.6L2867.2 511.2L2881.7 517.5L2896.2 524.5L2908.9 533.6L2921.1 543.5L2930.3 555.9L2930.3 573.6L2936.5 587.2L2949.9 597.4L2962.4 608.7L2975.1 620.6L2985.1 634.1L2987.7 650.1L2986.9 666.6L2979.6 684L2972.5 700.4L2965.2 716L2958.7 730.8Z" fill="#5894c6"/>
<path d="M2930.9 745L2925 757.7L2920 770.1L2915.8 782.2L2912.1 794.1L2908.5 806L2905.9 818L2903 830L2899 841.7L2894.1 853L2888.2 863.8L2881.3 874.1L2873.4 883.6L2864.8 892.4L2855.6 900.6L2845.3 907.6L2833.7 913.1L2821.9 917.8L2810.2 921.8L2798 924.7L2786.3 927.2L2775.1 929.7L2764.1 931.7L2753.5 933.5L2743.2 935.1L2733.4 937.2L2724 939.4L2714.8 941.4L2705.3 942.6L2695.9 943.2L2686.6 943.5L2677.4 943.3L2668.3 942.9L2659.4 942.3L2650.6 941.5L2641.9 940.7L2633.4 939.9L2624.9 940.7L2616.2 941.5L2607.4 942.3L2598.5 942.9L2589.4 943.3L2580.2 943.5L2570.9 943.2L2561.5 942.6L2552 941.4L2542.8 939.4L2533.4 937.2L2523.6 935.1L2513.3 933.5L2502.7 931.7L2491.7 929.7L2480.5 927.2L2468.8 924.7L2456.6 921.8L2444.9 917.8L2433.1 913.1L2421.5 907.6L2411.2 900.6L2402 892.4L2393.4 883.6L2385.5 874.1L2378.6 863.8L2372.7 853L2367.8 841.7L2363.8 830L2360.9 818L2358.3 806L2354.7 794.1L2351 782.2L2346.8 770.1L2341.8 757.7L2335.9 745L2330.1 731.8L2323.9 717.9L2316.9 703.3L2309.8 687.9L2302 671.5L2301.7 656.1L2304.9 641.4L2315.3 629.2L2327.8 618.4L2339.5 608L2351.5 598.3L2355.6 584.6L2352.3 565.9L2359.5 553.2L2370 542.9L2381.3 533.5L2394.4 526L2408.2 519.8L2422.4 514.7L2436.2 509.9L2450.3 506.3L2464.1 503.3L2478 501L2490.8 498L2503.8 496L2516.5 494.4L2529 493.1L2541.6 492.8L2553.6 491.8L2565.4 491.1L2576.9 490.3L2588.4 489.7L2599.7 489.2L2611 489.4L2622.2 489.5L2633.4 488.1L2644.6 489.5L2655.8 489.4L2667.1 489.2L2678.4 489.7L2689.9 490.3L2701.4 491.1L2713.2 491.8L2725.2 492.8L2737.8 493.1L2750.3 494.4L2763 496L2776 498L2788.8 501L2802.7 503.3L2816.5 506.3L2830.6 509.9L2844.4 514.7L2858.6 519.8L2872.4 526L2885.5 533.5L2896.8 542.9L2907.3 553.2L2914.5 565.9L2911.2 584.6L2915.3 598.3L2927.3 608L2939 618.4L2951.5 629.2L2961.9 641.4L2965.1 656.1L2964.8 671.5L2957 687.9L2949.9 703.3L2942.9 717.9L2936.7 731.8Z" fill="#5c97c8"/>
<path d="M2909.3 745L2904.4 756.8L2899.7 768.3L2895.6 779.5L2891.6 790.5L2887.9 801.4L2885.1 812.4L2882.3 823.5L2878.7 834.3L2874.5 844.9L2869.4 855L2863.7 864.9L2857 874.1L2849.9 882.9L2842.2 891.2L2833.6 898.6L2823.8 904.8L2813.8 910.3L2803.4 915L2792.3 918.4L2781.5 921.5L2771.1 924.4L2760.6 926.7L2750.4 928.6L2740.3 930.1L2730.6 931.8L2721.2 933.3L2711.9 934.6L2702.5 934.9L2693.2 934.6L2684.1 934.2L2675.2 933.6L2666.5 932.9L2658 932.1L2649.7 931.3L2641.5 930.5L2633.4 929.9L2625.3 930.6L2617.1 931.3L2608.8 932.1L2600.3 932.9L2591.6 933.6L2582.7 934.2L2573.6 934.6L2564.3 934.9L2554.9 934.6L2545.6 933.3L2536.2 931.8L2526.5 930.1L2516.4 928.6L2506.2 926.7L2495.7 924.4L2485.3 921.5L2474.5 918.4L2463.4 915L2453 910.3L2443 904.8L2433.2 898.6L2424.6 891.2L2416.9 882.9L2409.8 874.1L2403.1 864.9L2397.4 855L2392.3 844.9L2388.1 834.3L2384.5 823.5L2381.7 812.4L2378.9 801.4L2375.2 790.5L2371.2 779.5L2367.1 768.3L2362.4 756.8L2357.5 745L2352.1 732.7L2346.2 719.9L2339.6 706.3L2332.4 691.9L2324.1 676.4L2324.3 662.2L2328 648.7L2339 637.8L2351.2 628.1L2362.1 618.5L2372.6 609.3L2374.7 595.6L2368 575.9L2373.3 562.9L2382 552.1L2392.1 542.5L2403.8 534.6L2416.8 528.4L2429.8 522.9L2443.1 518.2L2456.4 514.3L2469.7 511.2L2482.9 508.7L2495.2 505.7L2507.7 503.6L2520 501.9L2532.2 500.7L2544.4 500.4L2556 499.6L2567.4 498.7L2578.6 498L2589.7 497.4L2600.7 496.7L2611.7 497.1L2622.6 497L2633.4 495.8L2644.2 496.9L2655.1 497.1L2666.1 496.7L2677.1 497.4L2688.2 498L2699.4 498.7L2710.8 499.6L2722.4 500.4L2734.6 500.7L2746.8 501.9L2759.1 503.6L2771.6 505.7L2783.9 508.7L2797.1 511.2L2810.4 514.3L2823.7 518.2L2837 522.9L2850 528.4L2863 534.6L2874.7 542.5L2884.8 552.1L2893.5 562.9L2898.8 575.9L2892.1 595.6L2894.2 609.3L2904.7 618.5L2915.6 628.1L2927.8 637.8L2938.8 648.7L2942.5 662.2L2942.7 676.4L2934.4 691.9L2927.2 706.3L2920.6 719.9L2914.7 732.7Z" fill="#6099c9"/>
<path d="M2900.5 745L2895.7 756.5L2891 767.5L2887.1 778.4L2883.2 789L2879.6 799.6L2876.7 810.2L2873.9 820.8L2870.5 831.3L2866.5 841.6L2861.8 851.5L2856.4 861.1L2850.1 870.1L2843.3 878.7L2836 886.9L2827.9 894.3L2818.7 900.5L2809.1 906L2799.1 910.7L2788.4 914.2L2778 917.3L2768 920.4L2757.9 922.8L2748 924.9L2738.2 926.6L2728.8 928.2L2719.6 929.8L2710.4 930.9L2701.2 931.2L2692 930.9L2683.1 930.3L2674.3 929.7L2665.8 928.9L2657.5 928.1L2649.3 927.2L2641.3 926.5L2633.4 925.9L2625.5 926.6L2617.5 927.2L2609.3 928.1L2601 928.9L2592.5 929.7L2583.7 930.3L2574.8 930.9L2565.6 931.2L2556.4 930.9L2547.2 929.8L2538 928.2L2528.6 926.6L2518.8 924.9L2508.9 922.8L2498.8 920.4L2488.8 917.3L2478.4 914.2L2467.7 910.7L2457.7 906L2448.1 900.5L2438.9 894.3L2430.8 886.9L2423.5 878.7L2416.7 870.1L2410.4 861.1L2405 851.5L2400.3 841.6L2396.3 831.3L2392.9 820.8L2390.1 810.2L2387.2 799.6L2383.6 789L2379.7 778.4L2375.8 767.5L2371.1 756.5L2366.3 745L2361.1 733.1L2355.6 720.7L2349.4 707.6L2342.9 693.8L2335.6 679L2335.9 665.3L2339.5 652.3L2349.6 641.7L2361 632.2L2371.4 622.8L2381.4 613.8L2384 601L2378.8 582.8L2384.2 570.5L2392.5 560.2L2402.1 550.9L2412.6 542.7L2424.1 535.7L2436.1 529.7L2448.7 524.9L2461.5 520.9L2474.2 517.7L2487 515.1L2498.9 512L2511 509.9L2522.9 508.1L2534.8 506.9L2546.6 506.4L2557.9 505.6L2569 504.7L2580 504L2590.8 503.4L2601.5 502.8L2612.2 503L2622.8 502.9L2633.4 501.8L2644 502.8L2654.6 503L2665.3 502.8L2676 503.4L2686.8 504L2697.8 504.7L2708.9 505.6L2720.2 506.4L2732 506.9L2743.9 508.1L2755.8 509.9L2767.9 512L2779.8 515.1L2792.6 517.7L2805.3 520.9L2818.1 524.9L2830.7 529.7L2842.7 535.7L2854.2 542.7L2864.7 550.9L2874.3 560.2L2882.6 570.5L2888 582.8L2882.8 601L2885.4 613.8L2895.4 622.8L2905.8 632.2L2917.2 641.7L2927.3 652.3L2930.9 665.3L2931.2 679L2923.9 693.8L2917.4 707.6L2911.2 720.7L2905.7 733.1Z" fill="#669dcb"/>
<path d="M2891.7 745L2887 756.1L2882.4 766.8L2878.6 777.3L2874.8 787.6L2871.3 797.7L2868.4 808L2865.5 818.2L2862.3 828.3L2858.5 838.3L2854.1 847.9L2849 857.3L2843.2 866.1L2836.8 874.6L2829.9 882.6L2822.2 889.9L2813.6 896.2L2804.4 901.7L2794.8 906.4L2784.5 909.9L2774.5 913.1L2764.8 916.3L2755.2 918.9L2745.6 921.1L2736.2 923L2726.9 924.7L2717.9 926.2L2708.9 927.3L2699.8 927.5L2690.8 927.1L2682 926.5L2673.5 925.8L2665.1 924.9L2657 924.1L2649 923.2L2641.2 922.5L2633.4 921.9L2625.6 922.6L2617.8 923.2L2609.8 924.1L2601.7 924.9L2593.3 925.8L2584.8 926.5L2576 927.1L2567 927.5L2557.9 927.3L2548.9 926.2L2539.9 924.7L2530.6 923L2521.2 921.1L2511.6 918.9L2502 916.3L2492.3 913.1L2482.3 909.9L2472 906.4L2462.4 901.7L2453.2 896.2L2444.6 889.9L2436.9 882.6L2430 874.6L2423.6 866.1L2417.8 857.3L2412.7 847.9L2408.3 838.3L2404.5 828.3L2401.3 818.2L2398.4 808L2395.5 797.7L2392 787.6L2388.2 777.3L2384.4 766.8L2379.8 756.1L2375.1 745L2370.1 733.5L2364.9 721.5L2359.3 708.9L2353.5 695.6L2347.1 681.5L2347.6 668.4L2351.1 656L2360.2 645.6L2370.8 636.2L2380.7 627.1L2390.2 618.4L2393.2 606.3L2389.6 589.7L2395.1 578.1L2403 568.2L2412.1 559.3L2421.4 550.8L2431.5 543.1L2442.3 536.4L2454.4 531.7L2466.6 527.6L2478.8 524.2L2491 521.5L2502.6 518.4L2514.3 516.1L2525.8 514.3L2537.3 513L2548.8 512.5L2559.8 511.6L2570.6 510.8L2581.3 510L2591.9 509.4L2602.3 508.8L2612.7 508.9L2623.1 508.7L2633.4 507.7L2643.7 508.7L2654.1 508.9L2664.5 508.8L2674.9 509.4L2685.5 510L2696.2 510.8L2707 511.6L2718 512.5L2729.5 513L2741 514.3L2752.5 516.1L2764.2 518.4L2775.8 521.5L2788 524.2L2800.2 527.6L2812.4 531.7L2824.5 536.4L2835.3 543.1L2845.4 550.8L2854.7 559.3L2863.8 568.2L2871.7 578.1L2877.2 589.7L2873.6 606.3L2876.6 618.4L2886.1 627.1L2896 636.2L2906.6 645.6L2915.7 656L2919.2 668.4L2919.7 681.5L2913.3 695.6L2907.5 708.9L2901.9 721.5L2896.7 733.5Z" fill="#6ca0cd"/>
<path d="M2883 745L2878.3 755.7L2873.8 766L2870 776.2L2866.4 786.1L2863 795.9L2860.1 805.7L2857.1 815.5L2854.1 825.3L2850.6 835L2846.5 844.4L2841.7 853.5L2836.3 862.2L2830.3 870.4L2823.8 878.3L2816.5 885.5L2808.4 891.9L2799.7 897.4L2790.5 902.1L2780.6 905.6L2770.9 908.9L2761.7 912.2L2752.4 915L2743.2 917.4L2734.1 919.4L2725.1 921.1L2716.2 922.7L2707.4 923.6L2698.5 923.8L2689.6 923.4L2681 922.7L2672.6 921.9L2664.4 921L2656.4 920L2648.6 919.2L2641 918.5L2633.4 917.9L2625.8 918.5L2618.2 919.2L2610.4 920L2602.4 921L2594.2 921.9L2585.8 922.7L2577.2 923.4L2568.3 923.8L2559.4 923.6L2550.6 922.7L2541.7 921.1L2532.7 919.4L2523.6 917.4L2514.4 915L2505.1 912.2L2495.9 908.9L2486.2 905.6L2476.3 902.1L2467.1 897.4L2458.4 891.9L2450.3 885.5L2443 878.3L2436.5 870.4L2430.5 862.2L2425.1 853.5L2420.3 844.4L2416.2 835L2412.7 825.3L2409.7 815.5L2406.7 805.7L2403.8 795.9L2400.4 786.1L2396.8 776.2L2393 766L2388.5 755.7L2383.8 745L2379.1 733.9L2374.3 722.3L2369.2 710.2L2364.1 697.5L2358.6 684.1L2359.3 671.5L2362.6 659.6L2370.9 649.4L2380.6 640.3L2389.9 631.5L2398.9 622.9L2402.4 611.7L2400.5 596.6L2405.9 585.7L2413.6 576.3L2422 567.6L2430.2 558.8L2438.9 550.5L2448.5 543.2L2460.1 538.4L2471.7 534.3L2483.4 530.8L2495.1 527.9L2506.2 524.7L2517.5 522.4L2528.7 520.5L2539.9 519.2L2551 518.5L2561.7 517.6L2572.2 516.8L2582.6 516L2592.9 515.4L2603.1 514.9L2613.3 514.9L2623.3 514.6L2633.4 513.7L2643.5 514.6L2653.5 514.9L2663.7 514.9L2673.9 515.4L2684.2 516L2694.6 516.8L2705.1 517.6L2715.8 518.5L2726.9 519.2L2738.1 520.5L2749.3 522.4L2760.6 524.7L2771.7 527.9L2783.4 530.8L2795.1 534.3L2806.7 538.4L2818.3 543.2L2827.9 550.5L2836.6 558.8L2844.8 567.6L2853.2 576.3L2860.9 585.7L2866.3 596.6L2864.4 611.7L2867.9 622.9L2876.9 631.5L2886.2 640.3L2895.9 649.4L2904.2 659.6L2907.5 671.5L2908.2 684.1L2902.7 697.5L2897.6 710.2L2892.5 722.3L2887.7 733.9Z" fill="#72a4cf"/>
<path d="M2874.2 745L2869.6 755.3L2865.1 765.3L2861.5 775L2858 784.6L2854.7 794.1L2851.7 803.5L2848.8 812.9L2845.9 822.3L2842.6 831.7L2838.8 840.8L2834.4 849.6L2829.4 858.2L2823.8 866.3L2817.6 874L2810.8 881.2L2803.3 887.6L2795 893.1L2786.2 897.8L2776.6 901.3L2767.4 904.7L2758.6 908.2L2749.7 911.1L2740.8 913.6L2732 915.8L2723.2 917.6L2714.6 919.1L2705.9 919.9L2697.2 920.2L2688.4 919.6L2680 918.9L2671.7 917.9L2663.7 917L2655.9 916L2648.3 915.1L2640.8 914.5L2633.4 914L2626 914.5L2618.5 915.1L2610.9 916L2603.1 917L2595.1 917.9L2586.8 918.9L2578.4 919.6L2569.6 920.2L2560.9 919.9L2552.2 919.1L2543.6 917.6L2534.8 915.8L2526 913.6L2517.1 911.1L2508.2 908.2L2499.4 904.7L2490.2 901.3L2480.6 897.8L2471.8 893.1L2463.5 887.6L2456 881.2L2449.2 874L2443 866.3L2437.4 858.2L2432.4 849.6L2428 840.8L2424.2 831.7L2420.9 822.3L2418 812.9L2415.1 803.5L2412.1 794.1L2408.8 784.6L2405.3 775L2401.7 765.3L2397.2 755.3L2392.6 745L2388.2 734.3L2383.6 723.1L2379 711.5L2374.6 699.4L2370.1 686.6L2370.9 674.7L2374.1 663.2L2381.5 653.3L2390.4 644.3L2399.2 635.8L2407.7 627.5L2411.7 617L2411.3 603.5L2416.8 593.3L2424.1 584.4L2432 576L2439.1 566.9L2446.2 557.8L2454.8 550L2465.7 545.2L2476.8 540.9L2488 537.3L2499.2 534.3L2509.9 531.1L2520.8 528.6L2531.6 526.7L2542.4 525.3L2553.2 524.6L2563.6 523.6L2573.9 522.8L2584 522L2594 521.5L2603.9 520.9L2613.8 520.8L2623.6 520.5L2633.4 519.7L2643.2 520.5L2653 520.8L2662.9 520.9L2672.8 521.5L2682.8 522L2692.9 522.8L2703.2 523.6L2713.6 524.6L2724.4 525.3L2735.2 526.7L2746 528.6L2756.9 531.1L2767.6 534.3L2778.8 537.3L2790 540.9L2801.1 545.2L2812 550L2820.6 557.8L2827.7 566.9L2834.8 576L2842.7 584.4L2850 593.3L2855.5 603.5L2855.1 617L2859.1 627.5L2867.6 635.8L2876.4 644.3L2885.3 653.3L2892.7 663.2L2895.9 674.7L2896.7 686.6L2892.2 699.4L2887.8 711.5L2883.2 723.1L2878.6 734.3Z" fill="#78a8d1"/>
<path d="M2865.4 745L2860.9 754.9L2856.5 764.5L2853 773.9L2849.6 783.1L2846.3 792.2L2843.4 801.3L2840.4 810.3L2837.7 819.3L2834.6 828.4L2831.2 837.2L2827.1 845.8L2822.6 854.2L2817.2 862.1L2811.5 869.7L2805.2 876.8L2798.2 883.3L2790.3 888.8L2781.9 893.5L2772.7 897L2763.9 900.5L2755.5 904.1L2747 907.2L2738.5 909.9L2730 912.3L2721.4 914L2712.9 915.5L2704.4 916.3L2695.8 916.5L2687.3 915.8L2679 915L2670.9 914L2663 913L2655.4 912L2647.9 911.1L2640.6 910.5L2633.4 910L2626.2 910.5L2618.9 911.1L2611.4 912L2603.8 913L2595.9 914L2587.8 915L2579.5 915.8L2571 916.5L2562.4 916.3L2553.9 915.5L2545.4 914L2536.8 912.3L2528.3 909.9L2519.8 907.2L2511.3 904.1L2502.9 900.5L2494.1 897L2484.9 893.5L2476.5 888.8L2468.6 883.3L2461.6 876.8L2455.3 869.7L2449.6 862.1L2444.2 854.2L2439.7 845.8L2435.6 837.2L2432.2 828.4L2429.1 819.3L2426.4 810.3L2423.4 801.3L2420.5 792.2L2417.2 783.1L2413.8 773.9L2410.3 764.5L2405.9 754.9L2401.4 745L2397.2 734.7L2392.9 724L2388.9 712.8L2385.2 701.2L2381.6 689.2L2382.6 677.8L2385.6 666.9L2392.1 657.2L2400.2 648.4L2408.5 640.1L2416.5 632.1L2420.9 622.3L2422.1 610.4L2427.7 601L2434.6 592.4L2442 584.4L2447.9 575L2453.6 565.2L2461 556.8L2471.4 551.9L2481.9 547.6L2492.6 543.8L2503.2 540.7L2513.6 537.5L2524 534.9L2534.5 532.9L2544.9 531.5L2555.4 530.6L2565.5 529.6L2575.5 528.8L2585.3 528L2595 527.5L2604.7 526.9L2614.3 526.7L2623.9 526.4L2633.4 525.7L2642.9 526.4L2652.5 526.7L2662.1 526.9L2671.8 527.5L2681.5 528L2691.3 528.8L2701.3 529.6L2711.4 530.6L2721.9 531.5L2732.3 532.9L2742.8 534.9L2753.2 537.5L2763.6 540.7L2774.2 543.8L2784.9 547.6L2795.4 551.9L2805.8 556.8L2813.2 565.2L2818.9 575L2824.8 584.4L2832.2 592.4L2839.1 601L2844.7 610.4L2845.9 622.3L2850.3 632.1L2858.3 640.1L2866.6 648.4L2874.7 657.2L2881.2 666.9L2884.2 677.8L2885.2 689.2L2881.6 701.2L2877.9 712.8L2873.9 724L2869.6 734.7Z" fill="#7dabd3"/>
<path d="M2856.7 745L2852.2 754.6L2847.8 763.8L2844.5 772.8L2841.2 781.6L2838 790.4L2835.1 799L2832 807.6L2829.4 816.4L2826.7 825.1L2823.6 833.7L2819.8 842L2815.7 850.2L2810.7 858L2805.4 865.4L2799.5 872.4L2793.1 879L2785.6 884.5L2777.6 889.2L2768.8 892.8L2760.4 896.3L2752.4 900L2744.3 903.3L2736.1 906.2L2727.9 908.7L2719.5 910.4L2711.3 912L2702.8 912.6L2694.5 912.8L2686.1 912.1L2677.9 911.2L2670 910.1L2662.3 909L2654.9 908L2647.6 907.1L2640.5 906.5L2633.4 906L2626.3 906.5L2619.2 907.1L2611.9 908L2604.5 909L2596.8 910.1L2588.9 911.2L2580.7 912.1L2572.3 912.8L2564 912.6L2555.5 912L2547.3 910.4L2538.9 908.7L2530.7 906.2L2522.5 903.3L2514.4 900L2506.4 896.3L2498 892.8L2489.2 889.2L2481.2 884.5L2473.7 879L2467.3 872.4L2461.4 865.4L2456.1 858L2451.1 850.2L2447 842L2443.2 833.7L2440.1 825.1L2437.4 816.4L2434.8 807.6L2431.7 799L2428.8 790.4L2425.6 781.6L2422.3 772.8L2419 763.8L2414.6 754.6L2410.1 745L2406.2 735.1L2402.3 724.8L2398.8 714.1L2395.8 703.1L2393.2 691.7L2394.2 680.9L2397.1 670.5L2402.8 661.1L2410 652.5L2417.7 644.4L2425.2 636.6L2430.2 627.7L2432.9 617.3L2438.6 608.6L2445.1 600.5L2452 592.8L2456.7 583.1L2461 572.6L2467.2 563.6L2477.1 558.7L2487 554.3L2497.1 550.4L2507.3 547.1L2517.3 543.8L2527.3 541.2L2537.4 539.1L2547.5 537.6L2557.6 536.7L2567.4 535.6L2577.1 534.8L2586.6 534L2596.1 533.5L2605.5 533L2614.8 532.7L2624.1 532.3L2633.4 531.6L2642.7 532.3L2652 532.7L2661.3 533L2670.7 533.5L2680.2 534L2689.7 534.8L2699.4 535.6L2709.2 536.7L2719.3 537.6L2729.4 539.1L2739.5 541.2L2749.5 543.8L2759.5 547.1L2769.7 550.4L2779.8 554.3L2789.7 558.7L2799.6 563.6L2805.8 572.6L2810.1 583.1L2814.8 592.8L2821.7 600.5L2828.2 608.6L2833.9 617.3L2836.6 627.7L2841.6 636.6L2849.1 644.4L2856.8 652.5L2864 661.1L2869.7 670.5L2872.6 680.9L2873.6 691.7L2871 703.1L2868 714.1L2864.5 724.8L2860.6 735.1Z" fill="#83afd5"/>
<path d="M2847.9 745L2843.5 754.2L2839.2 763L2836 771.7L2832.8 780.2L2829.7 788.5L2826.7 796.8L2823.6 805L2821.2 813.4L2818.7 821.8L2815.9 830.1L2812.5 838.2L2808.8 846.3L2804.2 853.8L2799.2 861.1L2793.8 868.1L2788 874.7L2780.9 880.1L2773.3 884.9L2764.9 888.5L2756.9 892.1L2749.2 896L2741.5 899.4L2733.7 902.4L2725.9 905.1L2717.7 906.9L2709.6 908.4L2701.3 909L2693.1 909.1L2684.9 908.3L2676.9 907.4L2669.1 906.2L2661.6 905L2654.3 903.9L2647.2 903L2640.3 902.5L2633.4 902L2626.5 902.5L2619.6 903L2612.5 903.9L2605.2 905L2597.7 906.2L2589.9 907.4L2581.9 908.3L2573.7 909.1L2565.5 909L2557.2 908.4L2549.1 906.9L2540.9 905.1L2533.1 902.4L2525.3 899.4L2517.6 896L2509.9 892.1L2501.9 888.5L2493.5 884.9L2485.9 880.1L2478.8 874.7L2473 868.1L2467.6 861.1L2462.6 853.8L2458 846.3L2454.3 838.2L2450.9 830.1L2448.1 821.8L2445.6 813.4L2443.2 805L2440.1 796.8L2437.1 788.5L2434 780.2L2430.8 771.7L2427.6 763L2423.3 754.2L2418.9 745L2415.2 735.5L2411.6 725.6L2408.7 715.4L2406.3 705L2404.7 694.3L2405.9 684L2408.7 674.1L2413.4 664.9L2419.8 656.5L2427 648.7L2434 641.2L2439.4 633L2443.7 624.1L2449.4 616.2L2455.6 608.6L2461.9 601.1L2465.5 591.2L2468.4 580L2473.4 570.4L2482.7 565.4L2492.1 560.9L2501.7 556.9L2511.4 553.5L2520.9 550.2L2530.5 547.4L2540.3 545.3L2550 543.7L2559.8 542.7L2569.3 541.7L2578.7 540.8L2588 540L2597.2 539.5L2606.3 539L2615.3 538.6L2624.4 538.2L2633.4 537.6L2642.4 538.1L2651.5 538.6L2660.5 539L2669.6 539.5L2678.8 540L2688.1 540.8L2697.5 541.7L2707 542.7L2716.8 543.7L2726.5 545.3L2736.3 547.4L2745.9 550.2L2755.4 553.5L2765.1 556.9L2774.7 560.9L2784.1 565.4L2793.4 570.4L2798.4 580L2801.3 591.2L2804.9 601.1L2811.2 608.6L2817.4 616.2L2823.1 624.1L2827.4 633L2832.8 641.2L2839.8 648.7L2847 656.5L2853.4 664.9L2858.1 674.1L2860.9 684L2862.1 694.3L2860.5 705L2858.1 715.4L2855.2 725.6L2851.6 735.5Z" fill="#89b2d7"/>
<path d="M2839.1 745L2834.8 753.8L2830.5 762.2L2827.4 770.5L2824.4 778.7L2821.4 786.7L2818.4 794.6L2815.2 802.3L2813 810.4L2810.7 818.5L2808.3 826.6L2805.2 834.4L2801.9 842.3L2797.7 849.6L2793.1 856.8L2788.1 863.7L2782.9 870.4L2776.2 875.8L2769 880.6L2761 884.2L2753.3 887.9L2746.1 891.9L2738.8 895.5L2731.3 898.7L2723.8 901.6L2715.8 903.3L2708 904.9L2699.8 905.3L2691.8 905.4L2683.7 904.6L2675.9 903.5L2668.3 902.3L2660.9 901.1L2653.8 899.9L2646.9 899L2640.1 898.5L2633.4 898.1L2626.7 898.5L2619.9 899L2613 899.9L2605.9 901.1L2598.5 902.3L2590.9 903.5L2583.1 904.6L2575 905.4L2567 905.3L2558.8 904.9L2551 903.3L2543 901.6L2535.5 898.7L2528 895.5L2520.7 891.9L2513.5 887.9L2505.8 884.2L2497.8 880.6L2490.6 875.8L2483.9 870.4L2478.7 863.7L2473.7 856.8L2469.1 849.6L2464.9 842.3L2461.6 834.4L2458.5 826.6L2456.1 818.5L2453.8 810.4L2451.6 802.3L2448.4 794.6L2445.4 786.7L2442.4 778.7L2439.4 770.5L2436.3 762.2L2432 753.8L2427.7 745L2424.3 735.9L2421 726.4L2418.5 716.7L2416.9 706.8L2416.2 696.8L2417.5 687.2L2420.2 677.8L2424 668.8L2429.6 660.6L2436.3 653.1L2442.7 645.7L2448.7 638.3L2454.5 631L2460.3 623.8L2466.1 616.6L2471.9 609.5L2474.3 599.3L2475.7 587.3L2479.7 577.2L2488.4 572.2L2497.3 567.6L2506.3 563.5L2515.5 559.9L2524.6 556.6L2533.8 553.7L2543.2 551.5L2552.6 549.9L2562 548.8L2571.2 547.7L2580.3 546.8L2589.3 546L2598.2 545.5L2607.1 545L2615.9 544.6L2624.6 544.1L2633.4 543.6L2642.2 544L2650.9 544.5L2659.7 545L2668.6 545.5L2677.5 546L2686.5 546.8L2695.6 547.7L2704.8 548.8L2714.2 549.9L2723.6 551.5L2733 553.7L2742.2 556.6L2751.3 559.9L2760.5 563.5L2769.5 567.6L2778.4 572.2L2787.1 577.2L2791.1 587.3L2792.5 599.3L2794.9 609.5L2800.7 616.6L2806.5 623.8L2812.3 631L2818.1 638.3L2824.1 645.7L2830.5 653.1L2837.2 660.6L2842.8 668.8L2846.6 677.8L2849.3 687.2L2850.6 696.8L2849.9 706.8L2848.3 716.7L2845.8 726.4L2842.5 735.9Z" fill="#8fb6d9"/>
<path d="M2833.2 745L2829.1 753.5L2825.2 761.8L2822.2 769.9L2819.3 777.8L2816.4 785.6L2813.6 793.3L2810.5 800.8L2808.3 808.7L2805.8 816.4L2803.4 824.3L2800.4 831.9L2797.2 839.6L2793.2 846.8L2788.8 853.8L2784 860.6L2779 867.1L2772.5 872.5L2765.7 877.3L2758 881L2750.6 884.7L2743.6 888.6L2736.5 892.2L2729.1 895.2L2721.8 898.1L2713.9 899.7L2706.2 901.2L2698.2 901.5L2690.4 901.5L2682.5 900.6L2674.8 899.5L2667.4 898.2L2660.2 896.9L2653.2 895.8L2646.5 894.8L2639.9 894.3L2633.4 893.9L2626.9 894.3L2620.3 894.8L2613.6 895.8L2606.6 896.9L2599.4 898.2L2592 899.5L2584.3 900.6L2576.4 901.5L2568.6 901.5L2560.6 901.2L2552.9 899.7L2545 898.1L2537.7 895.2L2530.3 892.2L2523.2 888.6L2516.2 884.7L2508.8 881L2501.1 877.3L2494.3 872.5L2487.8 867.1L2482.8 860.6L2478 853.8L2473.6 846.8L2469.6 839.6L2466.4 831.9L2463.4 824.3L2461 816.4L2458.5 808.7L2456.3 800.8L2453.2 793.3L2450.4 785.6L2447.5 777.8L2444.6 769.9L2441.6 761.8L2437.7 753.5L2433.6 745L2430.5 736.1L2427.6 727L2425.4 717.6L2424.1 708.1L2423.6 698.5L2425 689.2L2427.6 680.1L2431.2 671.4L2436.4 663.4L2442.6 656L2448.7 648.9L2454.4 641.6L2460 634.5L2465.5 627.4L2471.2 620.5L2476.9 613.7L2479.6 604.1L2481.5 593.1L2485.6 583.7L2493.9 578.8L2502.4 574.3L2511.1 570.3L2520 566.9L2528.8 563.8L2537.7 561.1L2546.7 559.1L2555.8 557.6L2564.8 556.6L2573.7 555.7L2582.5 555L2591.1 554.4L2599.7 554L2608.2 553.5L2616.6 553.1L2625 552.7L2633.4 552.3L2641.8 552.7L2650.2 553.1L2658.6 553.5L2667.1 554L2675.7 554.4L2684.3 555L2693.1 555.7L2702 556.6L2711 557.6L2720.1 559.1L2729.1 561.1L2738 563.8L2746.8 566.9L2755.7 570.3L2764.4 574.3L2772.9 578.8L2781.2 583.7L2785.3 593.1L2787.2 604.1L2789.9 613.7L2795.6 620.5L2801.3 627.4L2806.8 634.5L2812.4 641.6L2818.1 648.9L2824.2 656L2830.4 663.4L2835.6 671.4L2839.2 680.1L2841.8 689.2L2843.2 698.5L2842.7 708.1L2841.4 717.6L2839.2 727L2836.3 736.1Z" fill="#93b9da"/>
<path d="M2827.2 745L2823.5 753.3L2819.9 761.3L2817 769.2L2814.2 776.9L2811.4 784.5L2808.7 792L2805.8 799.4L2803.6 806.9L2800.9 814.4L2798.5 822L2795.6 829.5L2792.6 836.9L2788.7 843.9L2784.6 850.9L2779.9 857.4L2775.1 863.9L2768.9 869.2L2762.3 873.9L2755 877.7L2747.9 881.5L2741.1 885.3L2734.1 888.8L2726.9 891.8L2719.7 894.5L2712 896.1L2704.5 897.5L2696.6 897.7L2689 897.6L2681.2 896.6L2673.7 895.5L2666.5 894.1L2659.5 892.8L2652.7 891.6L2646.1 890.7L2639.7 890.1L2633.4 889.6L2627.1 890.2L2620.7 890.7L2614.1 891.6L2607.3 892.8L2600.3 894.1L2593.1 895.5L2585.6 896.6L2577.8 897.6L2570.2 897.7L2562.3 897.5L2554.8 896.1L2547.1 894.5L2539.9 891.8L2532.7 888.8L2525.7 885.3L2518.9 881.5L2511.8 877.7L2504.5 873.9L2497.9 869.2L2491.7 863.9L2486.9 857.4L2482.2 850.9L2478.1 843.9L2474.2 836.9L2471.2 829.5L2468.3 822L2465.9 814.4L2463.2 806.9L2461 799.4L2458.1 792L2455.4 784.5L2452.6 776.9L2449.8 769.2L2446.9 761.3L2443.3 753.3L2439.6 745L2436.7 736.4L2434.2 727.6L2432.3 718.5L2431.3 709.4L2431.1 700.1L2432.4 691.2L2435 682.4L2438.4 674L2443.2 666.2L2449 659L2454.7 652L2460.1 644.9L2465.4 638L2470.7 631.1L2476.3 624.4L2481.8 617.8L2484.9 608.9L2487.2 598.8L2491.5 590.1L2499.5 585.4L2507.6 581.1L2515.9 577.2L2524.5 574L2533 571L2541.6 568.6L2550.2 566.6L2559 565.3L2567.7 564.5L2576.2 563.7L2584.7 563.2L2593 562.8L2601.2 562.4L2609.3 562.1L2617.4 561.7L2625.4 561.4L2633.4 561L2641.4 561.3L2649.4 561.7L2657.5 562.1L2665.6 562.4L2673.8 562.8L2682.1 563.2L2690.6 563.7L2699.1 564.5L2707.8 565.3L2716.6 566.6L2725.2 568.6L2733.8 571L2742.3 574L2750.9 577.2L2759.2 581.1L2767.3 585.4L2775.3 590.1L2779.6 598.8L2781.9 608.9L2785 617.8L2790.5 624.4L2796.1 631.1L2801.4 638L2806.7 644.9L2812.1 652L2817.8 659L2823.6 666.2L2828.4 674L2831.8 682.4L2834.4 691.2L2835.7 700.1L2835.5 709.4L2834.5 718.5L2832.6 727.6L2830.1 736.4Z" fill="#98bcdc"/>
<path d="M2821.3 745L2817.9 753.1L2814.6 760.9L2811.9 768.5L2809.1 776L2806.5 783.4L2803.8 790.7L2801.1 797.9L2798.9 805.2L2796 812.4L2793.6 819.7L2790.9 827L2787.9 834.2L2784.3 841.1L2780.3 847.9L2775.8 854.3L2771.2 860.6L2765.3 865.9L2759 870.6L2752.1 874.5L2745.2 878.2L2738.5 882L2731.7 885.4L2724.7 888.4L2717.7 891L2710.1 892.4L2702.8 893.7L2695.1 893.9L2687.5 893.7L2680 892.7L2672.6 891.4L2665.6 890L2658.7 888.7L2652.2 887.4L2645.8 886.5L2639.6 886L2633.4 885.4L2627.2 886L2621 886.6L2614.6 887.4L2608.1 888.7L2601.2 890L2594.2 891.4L2586.8 892.7L2579.3 893.7L2571.7 893.9L2564 893.7L2556.7 892.4L2549.1 891L2542.1 888.4L2535.1 885.4L2528.3 882L2521.6 878.2L2514.7 874.5L2507.8 870.6L2501.5 865.9L2495.6 860.6L2491 854.3L2486.5 847.9L2482.5 841.1L2478.9 834.2L2475.9 827L2473.2 819.7L2470.8 812.4L2467.9 805.2L2465.7 797.9L2463 790.7L2460.3 783.4L2457.7 776L2454.9 768.5L2452.2 760.9L2448.9 753.1L2445.5 745L2443 736.7L2440.8 728.1L2439.2 719.4L2438.5 710.6L2438.5 701.8L2439.9 693.1L2442.4 684.8L2445.6 676.7L2450.1 669.1L2455.4 662L2460.7 655.1L2465.8 648.2L2470.9 641.4L2475.9 634.7L2481.4 628.3L2486.8 622L2490.2 613.7L2493 604.6L2497.4 596.6L2505 592L2512.8 587.8L2520.7 584L2529 581.1L2537.1 578.3L2545.4 576L2553.8 574.2L2562.2 573.1L2570.6 572.4L2578.8 571.8L2586.9 571.4L2594.9 571.1L2602.7 570.8L2610.4 570.6L2618.1 570.3L2625.8 570L2633.4 569.7L2641 570L2648.7 570.3L2656.4 570.6L2664.1 570.8L2671.9 571.1L2679.9 571.4L2688 571.8L2696.2 572.4L2704.6 573.1L2713 574.2L2721.4 576L2729.7 578.3L2737.8 581.1L2746.1 584L2754 587.8L2761.8 592L2769.4 596.6L2773.8 604.6L2776.6 613.7L2780 622L2785.4 628.3L2790.9 634.7L2795.9 641.4L2801 648.2L2806.1 655.1L2811.4 662L2816.7 669.1L2821.2 676.7L2824.4 684.8L2826.9 693.1L2828.3 701.8L2828.3 710.6L2827.6 719.4L2826 728.1L2823.8 736.7Z" fill="#9cbedd"/>
<path d="M2815.3 745L2812.3 752.8L2809.3 760.4L2806.7 767.8L2804.1 775.1L2801.5 782.3L2799 789.4L2796.3 796.4L2794.1 803.5L2791.1 810.3L2788.7 817.4L2786.1 824.5L2783.3 831.5L2779.8 838.3L2776.1 844.9L2771.8 851.2L2767.3 857.3L2761.7 862.5L2755.7 867.3L2749.1 871.3L2742.5 875L2736 878.7L2729.4 882L2722.5 884.9L2715.7 887.5L2708.3 888.8L2701 890L2693.5 890L2686.1 889.8L2678.7 888.7L2671.6 887.4L2664.7 886L2658 884.6L2651.6 883.3L2645.4 882.4L2639.4 881.8L2633.4 881.2L2627.4 881.8L2621.4 882.4L2615.2 883.3L2608.8 884.6L2602.1 886L2595.2 887.4L2588.1 888.7L2580.7 889.8L2573.3 890L2565.8 890L2558.5 888.8L2551.1 887.5L2544.3 884.9L2537.4 882L2530.8 878.7L2524.3 875L2517.7 871.3L2511.1 867.3L2505.1 862.5L2499.5 857.3L2495 851.2L2490.7 844.9L2487 838.3L2483.5 831.5L2480.7 824.5L2478.1 817.4L2475.7 810.3L2472.7 803.5L2470.5 796.4L2467.8 789.4L2465.3 782.3L2462.7 775.1L2460.1 767.8L2457.5 760.4L2454.5 752.8L2451.5 745L2449.2 737L2447.4 728.7L2446 720.3L2445.7 711.9L2445.9 703.4L2447.3 695.1L2449.8 687.1L2452.8 679.3L2456.9 671.9L2461.8 665L2466.6 658.2L2471.5 651.5L2476.3 644.9L2481.1 638.4L2486.4 632.2L2491.7 626.1L2495.4 618.6L2498.7 610.3L2503.3 603.1L2510.5 598.6L2518 594.6L2525.5 590.9L2533.4 588.1L2541.3 585.5L2549.3 583.4L2557.3 581.8L2565.4 580.8L2573.4 580.2L2581.3 579.8L2589.1 579.6L2596.7 579.5L2604.2 579.3L2611.6 579.1L2618.9 578.9L2626.1 578.7L2633.4 578.5L2640.7 578.7L2647.9 578.9L2655.2 579.1L2662.6 579.3L2670.1 579.5L2677.7 579.6L2685.5 579.8L2693.4 580.2L2701.4 580.8L2709.5 581.8L2717.5 583.4L2725.5 585.5L2733.4 588.1L2741.3 590.9L2748.8 594.6L2756.3 598.6L2763.5 603.1L2768.1 610.3L2771.4 618.6L2775.1 626.1L2780.4 632.2L2785.7 638.4L2790.5 644.9L2795.3 651.5L2800.2 658.2L2805 665L2809.9 671.9L2814 679.3L2817 687.1L2819.5 695.1L2820.9 703.4L2821.1 711.9L2820.8 720.3L2819.4 728.7L2817.6 737Z" fill="#a0c1de"/>
<path d="M2809.4 745L2806.7 752.6L2804 759.9L2801.5 767.1L2799 774.2L2796.5 781.2L2794.1 788.1L2791.6 794.9L2789.4 801.8L2786.2 808.3L2783.8 815.1L2781.3 822L2778.6 828.9L2775.3 835.4L2771.9 841.9L2767.7 848L2763.4 854.1L2758 859.2L2752.4 864L2746.1 868L2739.8 871.7L2733.5 875.4L2727 878.7L2720.3 881.5L2713.7 884L2706.4 885.2L2699.3 886.3L2691.9 886.2L2684.7 885.9L2677.5 884.7L2670.5 883.3L2663.7 881.9L2657.3 880.5L2651.1 879.1L2645.1 878.3L2639.2 877.6L2633.4 877L2627.6 877.6L2621.7 878.3L2615.7 879.1L2609.5 880.5L2603.1 881.9L2596.3 883.3L2589.3 884.7L2582.1 885.9L2574.9 886.2L2567.5 886.3L2560.4 885.2L2553.1 884L2546.5 881.5L2539.8 878.7L2533.3 875.4L2527 871.7L2520.7 868L2514.4 864L2508.8 859.2L2503.4 854.1L2499.1 848L2494.9 841.9L2491.5 835.4L2488.2 828.9L2485.5 822L2483 815.1L2480.6 808.3L2477.4 801.8L2475.2 794.9L2472.7 788.1L2470.3 781.2L2467.8 774.2L2465.3 767.1L2462.8 759.9L2460.1 752.6L2457.4 745L2455.5 737.2L2454 729.3L2452.9 721.2L2453 713.2L2453.4 705.1L2454.8 697.1L2457.2 689.4L2460 681.9L2463.7 674.7L2468.2 668L2472.6 661.3L2477.1 654.8L2481.7 648.4L2486.3 642L2491.5 636.1L2496.7 630.3L2500.7 623.4L2504.5 616.1L2509.2 609.5L2516.1 605.2L2523.1 601.3L2530.3 597.7L2537.9 595.2L2545.5 592.7L2553.2 590.9L2560.8 589.4L2568.6 588.5L2576.3 588.1L2583.8 587.8L2591.3 587.8L2598.6 587.9L2605.7 587.7L2612.7 587.6L2619.6 587.4L2626.5 587.3L2633.4 587.2L2640.3 587.3L2647.2 587.4L2654.1 587.6L2661.1 587.7L2668.2 587.9L2675.5 587.8L2683 587.8L2690.5 588.1L2698.2 588.5L2706 589.4L2713.6 590.9L2721.3 592.7L2728.9 595.2L2736.5 597.7L2743.7 601.3L2750.7 605.2L2757.6 609.5L2762.3 616.1L2766.1 623.4L2770.1 630.3L2775.3 636.1L2780.5 642L2785.1 648.4L2789.7 654.8L2794.2 661.3L2798.6 668L2803.1 674.7L2806.8 681.9L2809.6 689.4L2812 697.1L2813.4 705.1L2813.8 713.2L2813.9 721.2L2812.8 729.3L2811.3 737.2Z" fill="#a5c4e0"/>
<path d="M2803.4 745L2801 752.3L2798.7 759.5L2796.3 766.4L2793.9 773.3L2791.6 780.1L2789.3 786.8L2786.9 793.4L2784.7 800.1L2781.3 806.3L2778.9 812.8L2776.6 819.5L2774 826.2L2770.9 832.6L2767.6 839L2763.6 844.9L2759.5 850.8L2754.4 855.9L2749 860.6L2743.2 864.8L2737 868.5L2730.9 872.1L2724.6 875.3L2718.2 878L2711.6 880.5L2704.5 881.6L2697.6 882.6L2690.3 882.4L2683.3 882L2676.2 880.8L2669.4 879.3L2662.8 877.8L2656.6 876.4L2650.5 875L2644.7 874.1L2639 873.4L2633.4 872.8L2627.8 873.5L2622.1 874.1L2616.3 875L2610.2 876.4L2604 877.8L2597.4 879.3L2590.6 880.8L2583.5 882L2576.5 882.4L2569.2 882.6L2562.3 881.6L2555.2 880.5L2548.6 878L2542.2 875.3L2535.9 872.1L2529.8 868.5L2523.6 864.8L2517.8 860.6L2512.4 855.9L2507.3 850.8L2503.2 844.9L2499.2 839L2495.9 832.6L2492.8 826.2L2490.2 819.5L2487.9 812.8L2485.5 806.3L2482.1 800.1L2479.9 793.4L2477.5 786.8L2475.2 780.1L2472.9 773.3L2470.5 766.4L2468.1 759.5L2465.8 752.3L2463.4 745L2461.7 737.5L2460.6 729.9L2459.8 722.1L2460.2 714.5L2460.8 706.7L2462.2 699.1L2464.6 691.8L2467.2 684.5L2470.6 677.6L2474.6 671L2478.6 664.4L2482.8 658.1L2487.2 651.9L2491.5 645.7L2496.6 640L2501.6 634.4L2506 628.2L2510.3 621.9L2515.2 616L2521.6 611.8L2528.3 608.1L2535.1 604.6L2542.4 602.2L2549.7 600L2557 598.3L2564.3 596.9L2571.8 596.2L2579.1 595.9L2586.4 595.8L2593.5 596L2600.4 596.2L2607.2 596.2L2613.8 596.1L2620.4 596L2626.9 596L2633.4 595.9L2639.9 596L2646.4 596L2653 596.1L2659.6 596.2L2666.4 596.2L2673.3 596L2680.4 595.8L2687.7 595.9L2695 596.2L2702.5 596.9L2709.8 598.3L2717.1 600L2724.4 602.2L2731.7 604.6L2738.5 608.1L2745.2 611.8L2751.6 616L2756.5 621.9L2760.8 628.2L2765.2 634.4L2770.2 640L2775.3 645.7L2779.6 651.9L2784 658.1L2788.2 664.4L2792.2 671L2796.2 677.6L2799.6 684.5L2802.2 691.8L2804.6 699.1L2806 706.7L2806.6 714.5L2807 722.1L2806.2 729.9L2805.1 737.5Z" fill="#a9c6e1"/>
<path d="M2797.4 745L2795.4 752.1L2793.4 759L2791.1 765.8L2788.8 772.4L2786.6 779L2784.4 785.5L2782.2 791.9L2779.9 798.3L2776.4 804.2L2774 810.6L2771.8 817L2769.3 823.5L2766.4 829.7L2763.4 836L2759.5 841.8L2755.6 847.5L2750.8 852.6L2745.7 857.3L2740.2 861.5L2734.3 865.3L2728.4 868.8L2722.3 871.9L2716 874.6L2709.6 877L2702.6 878L2695.8 878.9L2688.7 878.6L2681.9 878.1L2675 876.8L2668.3 875.3L2661.9 873.7L2655.8 872.2L2650 870.8L2644.3 870L2638.8 869.2L2633.4 868.6L2628 869.3L2622.5 870L2616.8 870.8L2611 872.2L2604.9 873.7L2598.5 875.3L2591.8 876.8L2584.9 878.1L2578.1 878.6L2571 878.9L2564.2 878L2557.2 877L2550.8 874.6L2544.5 871.9L2538.4 868.8L2532.5 865.3L2526.6 861.5L2521.1 857.3L2516 852.6L2511.2 847.5L2507.3 841.8L2503.4 836L2500.4 829.7L2497.5 823.5L2495 817L2492.8 810.6L2490.4 804.2L2486.9 798.3L2484.6 791.9L2482.4 785.5L2480.2 779L2478 772.4L2475.7 765.8L2473.4 759L2471.4 752.1L2469.4 745L2467.9 737.8L2467.2 730.5L2466.6 723L2467.4 715.7L2468.2 708.4L2469.7 701.1L2472 694.1L2474.4 687.1L2477.4 680.4L2481 673.9L2484.6 667.5L2488.5 661.4L2492.6 655.3L2496.8 649.3L2501.7 643.9L2506.6 638.6L2511.2 633.1L2516 627.6L2521.1 622.4L2527.1 618.4L2533.5 614.8L2539.9 611.4L2546.9 609.3L2553.9 607.2L2560.9 605.8L2567.9 604.5L2575 603.9L2582 603.8L2588.9 603.9L2595.7 604.3L2602.3 604.6L2608.6 604.6L2614.9 604.6L2621.1 604.6L2627.3 604.6L2633.4 604.6L2639.5 604.6L2645.7 604.6L2651.9 604.6L2658.2 604.6L2664.5 604.6L2671.1 604.3L2677.9 603.9L2684.8 603.8L2691.8 603.9L2698.9 604.5L2705.9 605.8L2712.9 607.2L2719.9 609.3L2726.9 611.4L2733.3 614.8L2739.7 618.4L2745.7 622.4L2750.8 627.6L2755.6 633.1L2760.2 638.6L2765.1 643.9L2770 649.3L2774.2 655.3L2778.3 661.4L2782.2 667.5L2785.8 673.9L2789.4 680.4L2792.4 687.1L2794.8 694.1L2797.1 701.1L2798.6 708.4L2799.4 715.7L2800.2 723L2799.6 730.5L2798.9 737.8Z" fill="#aec9e3"/>
<path d="M2791.5 745L2789.8 751.8L2788.1 758.5L2785.9 765.1L2783.7 771.5L2781.6 777.9L2779.5 784.2L2777.4 790.4L2775.2 796.6L2771.5 802.2L2769.1 808.3L2767 814.6L2764.7 820.8L2761.9 826.9L2759.1 833L2755.4 838.7L2751.7 844.3L2747.2 849.2L2742.4 854L2737.2 858.3L2731.6 862L2725.9 865.5L2719.9 868.5L2713.8 871.2L2707.6 873.5L2700.7 874.3L2694.1 875.2L2687.1 874.7L2680.4 874.2L2673.7 872.9L2667.2 871.2L2661 869.7L2655.1 868.1L2649.4 866.7L2644 865.8L2638.6 865.1L2633.4 864.4L2628.2 865.1L2622.8 865.8L2617.4 866.7L2611.7 868.1L2605.8 869.7L2599.6 871.2L2593.1 872.9L2586.4 874.2L2579.7 874.7L2572.7 875.2L2566.1 874.3L2559.2 873.5L2553 871.2L2546.9 868.5L2540.9 865.5L2535.2 862L2529.6 858.3L2524.4 854L2519.6 849.2L2515.1 844.3L2511.4 838.7L2507.7 833L2504.9 826.9L2502.1 820.8L2499.8 814.6L2497.7 808.3L2495.3 802.2L2491.6 796.6L2489.4 790.4L2487.3 784.2L2485.2 777.9L2483.1 771.5L2480.9 765.1L2478.7 758.5L2477 751.8L2475.3 745L2474.2 738L2473.8 731L2473.5 724L2474.6 717L2475.7 710L2477.1 703.1L2479.3 696.4L2481.6 689.7L2484.2 683.2L2487.4 676.9L2490.5 670.6L2494.2 664.7L2498.1 658.8L2502 653L2506.8 647.8L2511.5 642.7L2516.5 637.9L2521.8 633.4L2527 628.9L2532.7 625L2538.7 621.5L2544.7 618.3L2551.4 616.3L2558 614.5L2564.8 613.2L2571.4 612.1L2578.2 611.7L2584.9 611.7L2591.4 611.9L2597.9 612.5L2604.1 612.9L2610.1 613L2616 613.1L2621.9 613.2L2627.6 613.3L2633.4 613.3L2639.2 613.3L2644.9 613.2L2650.8 613.1L2656.7 613L2662.7 612.9L2668.9 612.5L2675.4 611.9L2681.9 611.7L2688.6 611.7L2695.4 612.1L2702 613.2L2708.8 614.5L2715.4 616.3L2722.1 618.3L2728.1 621.5L2734.1 625L2739.8 628.9L2745 633.4L2750.3 637.9L2755.3 642.7L2760 647.8L2764.8 653L2768.7 658.8L2772.6 664.7L2776.3 670.6L2779.4 676.9L2782.6 683.2L2785.2 689.7L2787.5 696.4L2789.7 703.1L2791.1 710L2792.2 717L2793.3 724L2793 731L2792.6 738Z" fill="#b2cce4"/>
<path d="M2785.6 745L2784.1 751.6L2782.4 758L2780.3 764.3L2778.1 770.5L2776 776.6L2773.9 782.6L2771.8 788.6L2769.6 794.6L2766.2 800L2763.9 805.8L2761.9 811.9L2759.7 817.9L2757.1 823.8L2754.5 829.8L2751 835.3L2747.4 840.7L2743.1 845.5L2738.5 850.1L2733.6 854.3L2728.1 857.9L2722.6 861.2L2716.8 864.1L2710.8 866.6L2704.6 868.4L2697.9 869L2691.4 869.4L2684.6 868.7L2678.1 867.9L2671.7 866.4L2665.5 864.7L2659.6 863.1L2654 861.6L2648.6 860.2L2643.4 859.4L2638.4 858.6L2633.4 857.9L2628.4 858.7L2623.4 859.4L2618.2 860.2L2612.8 861.6L2607.2 863.1L2601.3 864.7L2595.1 866.4L2588.7 867.9L2582.2 868.7L2575.4 869.4L2568.9 869L2562.2 868.4L2556 866.6L2550 864.1L2544.2 861.2L2538.7 857.9L2533.2 854.3L2528.3 850.1L2523.7 845.5L2519.4 840.7L2515.8 835.3L2512.3 829.8L2509.7 823.8L2507.1 817.9L2504.9 811.9L2502.9 805.8L2500.6 800L2497.2 794.6L2495 788.6L2492.9 782.6L2490.8 776.6L2488.7 770.5L2486.5 764.3L2484.4 758L2482.7 751.6L2481.2 745L2480.3 738.3L2480 731.6L2479.8 724.8L2480.9 718.1L2482 711.4L2483.5 704.8L2485.7 698.4L2487.9 692L2490.5 685.8L2493.6 679.8L2496.6 673.8L2500.2 668.1L2504 662.5L2507.7 657L2512.3 652.1L2517 647.3L2521.7 642.7L2526.8 638.4L2531.9 634.2L2537.4 630.6L2543.2 627.4L2549 624.4L2555.5 622.7L2561.8 621L2568.3 619.9L2574.6 619L2581.1 618.7L2587.4 618.7L2593.7 619L2599.8 619.5L2605.7 620L2611.4 620.1L2617 620.2L2622.5 620.3L2628 620.4L2633.4 620.5L2638.8 620.4L2644.3 620.3L2649.8 620.2L2655.4 620.1L2661.1 620L2667 619.5L2673.1 619L2679.4 618.7L2685.7 618.7L2692.2 619L2698.5 619.9L2705 621L2711.3 622.7L2717.8 624.4L2723.6 627.4L2729.4 630.6L2734.9 634.2L2740 638.4L2745.1 642.7L2749.8 647.3L2754.5 652.1L2759.1 657L2762.8 662.5L2766.6 668.1L2770.2 673.8L2773.2 679.8L2776.3 685.8L2778.9 692L2781.1 698.4L2783.3 704.8L2784.8 711.4L2785.9 718.1L2787 724.8L2786.8 731.6L2786.5 738.3Z" fill="#b7cfe6"/>
<path d="M2779.7 745L2778.3 751.3L2776.6 757.5L2774.6 763.6L2772.5 769.5L2770.3 775.4L2768.2 781.1L2766.2 786.9L2764.1 792.6L2760.9 797.8L2758.7 803.4L2756.7 809.2L2754.7 815L2752.4 820.8L2749.8 826.5L2746.6 831.9L2743.2 837.1L2739 841.7L2734.6 846.2L2730 850.4L2724.7 853.8L2719.3 856.9L2713.7 859.6L2707.9 862L2701.7 863.3L2695.1 863.6L2688.7 863.6L2682.1 862.6L2675.8 861.6L2669.6 859.9L2663.7 858.2L2658.1 856.5L2652.8 855L2647.7 853.7L2642.8 852.9L2638.1 852.2L2633.4 851.5L2628.7 852.2L2624 852.9L2619.1 853.7L2614 855L2608.7 856.5L2603.1 858.2L2597.2 859.9L2591 861.6L2584.7 862.6L2578.1 863.6L2571.7 863.6L2565.1 863.3L2558.9 862L2553.1 859.6L2547.5 856.9L2542.1 853.8L2536.8 850.4L2532.2 846.2L2527.8 841.7L2523.6 837.1L2520.2 831.9L2517 826.5L2514.4 820.8L2512.1 815L2510.1 809.2L2508.1 803.4L2505.9 797.8L2502.7 792.6L2500.6 786.9L2498.6 781.1L2496.5 775.4L2494.3 769.5L2492.2 763.6L2490.2 757.5L2488.5 751.3L2487.1 745L2486.3 738.6L2486.1 732.1L2486.1 725.6L2487.3 719.2L2488.4 712.9L2489.9 706.6L2492.1 700.4L2494.2 694.3L2496.8 688.4L2499.8 682.7L2502.7 677L2506.2 671.6L2509.9 666.3L2513.5 661L2517.8 656.3L2522.4 651.8L2527 647.5L2531.8 643.4L2536.8 639.6L2542.1 636.2L2547.7 633.3L2553.3 630.5L2559.5 629L2565.6 627.5L2571.8 626.6L2577.9 625.9L2584 625.7L2590 625.8L2595.9 626.1L2601.7 626.6L2607.2 627L2612.6 627.1L2617.9 627.2L2623.1 627.4L2628.3 627.5L2633.4 627.6L2638.5 627.5L2643.7 627.4L2648.9 627.2L2654.2 627.1L2659.6 627L2665.1 626.6L2670.9 626.1L2676.8 625.8L2682.8 625.7L2688.9 625.9L2695 626.6L2701.2 627.5L2707.3 629L2713.5 630.5L2719.1 633.3L2724.7 636.2L2730 639.6L2735 643.4L2739.8 647.5L2744.4 651.8L2749 656.3L2753.3 661L2756.9 666.3L2760.6 671.6L2764.1 677L2767 682.7L2770 688.4L2772.6 694.3L2774.7 700.4L2776.9 706.6L2778.4 712.9L2779.5 719.2L2780.7 725.6L2780.7 732.1L2780.5 738.6Z" fill="#bcd3e7"/>
<path d="M2773.8 745L2772.6 751.1L2770.9 757L2769 762.9L2766.9 768.5L2764.7 774.1L2762.6 779.6L2760.6 785.1L2758.5 790.5L2755.6 795.6L2753.5 801L2751.6 806.5L2749.7 812.2L2747.6 817.8L2745.2 823.3L2742.2 828.5L2738.9 833.5L2734.9 838L2730.7 842.3L2726.3 846.4L2721.2 849.7L2716 852.6L2710.6 855.2L2705 857.4L2698.8 858.2L2692.3 858.2L2686 857.8L2679.6 856.5L2673.5 855.3L2667.6 853.5L2662 851.6L2656.7 849.9L2651.6 848.4L2646.9 847.2L2642.3 846.5L2637.8 845.7L2633.4 845.1L2629 845.8L2624.5 846.5L2619.9 847.3L2615.2 848.4L2610.1 849.9L2604.8 851.6L2599.2 853.5L2593.3 855.3L2587.2 856.5L2580.8 857.8L2574.5 858.2L2568 858.2L2561.8 857.4L2556.2 855.2L2550.8 852.6L2545.6 849.7L2540.5 846.4L2536.1 842.3L2531.9 838L2527.9 833.5L2524.6 828.5L2521.6 823.3L2519.2 817.8L2517.1 812.2L2515.2 806.5L2513.3 801L2511.2 795.6L2508.3 790.5L2506.2 785.1L2504.2 779.6L2502.1 774.1L2499.9 768.5L2497.8 762.9L2495.9 757L2494.2 751.1L2493 745L2492.4 738.8L2492.3 732.7L2492.5 726.4L2493.6 720.4L2494.8 714.3L2496.3 708.3L2498.4 702.4L2500.6 696.7L2503.1 691L2506 685.6L2508.8 680.2L2512.2 675L2515.7 670L2519.3 665.1L2523.4 660.6L2527.8 656.4L2532.2 652.3L2536.9 648.5L2541.7 645L2546.9 641.9L2552.2 639.1L2557.5 636.7L2563.5 635.4L2569.4 634.1L2575.2 633.3L2581.1 632.8L2586.9 632.7L2592.6 632.9L2598.1 633.2L2603.6 633.6L2608.8 634L2613.9 634.2L2618.8 634.3L2623.7 634.4L2628.6 634.6L2633.4 634.7L2638.2 634.6L2643.1 634.5L2648 634.3L2652.9 634.2L2658 634L2663.2 633.6L2668.7 633.2L2674.2 632.9L2679.9 632.7L2685.7 632.8L2691.6 633.3L2697.4 634.1L2703.3 635.4L2709.3 636.7L2714.6 639.1L2719.9 641.9L2725.1 645L2729.9 648.5L2734.6 652.3L2739 656.4L2743.4 660.6L2747.5 665.1L2751.1 670L2754.6 675L2758 680.2L2760.8 685.6L2763.7 691L2766.2 696.7L2768.4 702.4L2770.5 708.3L2772 714.3L2773.2 720.4L2774.3 726.4L2774.5 732.7L2774.4 738.8Z" fill="#c1d6e9"/>
<path d="M2767.9 745L2766.8 750.8L2765.2 756.5L2763.4 762.1L2761.3 767.5L2759.1 772.9L2757 778.1L2755 783.3L2753 788.5L2750.3 793.4L2748.3 798.6L2746.4 803.8L2744.7 809.3L2742.8 814.7L2740.5 820L2737.8 825.1L2734.6 829.9L2730.8 834.2L2726.8 838.4L2722.7 842.5L2717.8 845.6L2712.6 848.3L2707.4 850.7L2702.1 852.8L2695.8 853.1L2689.5 852.9L2683.3 852L2677.1 850.5L2671.2 848.9L2665.6 847L2660.2 845.1L2655.2 843.3L2650.5 841.8L2646 840.8L2641.7 840L2637.5 839.3L2633.4 838.6L2629.3 839.3L2625.1 840L2620.8 840.8L2616.3 841.8L2611.6 843.3L2606.6 845.1L2601.2 847L2595.6 848.9L2589.7 850.5L2583.5 852L2577.3 852.9L2571 853.1L2564.7 852.8L2559.4 850.7L2554.2 848.3L2549 845.6L2544.1 842.5L2540 838.4L2536 834.2L2532.2 829.9L2529 825.1L2526.3 820L2524 814.7L2522.1 809.3L2520.4 803.8L2518.5 798.6L2516.5 793.4L2513.8 788.5L2511.8 783.3L2509.8 778.1L2507.7 772.9L2505.5 767.5L2503.4 762.1L2501.6 756.5L2500 750.8L2498.9 745L2498.5 739.1L2498.4 733.2L2498.8 727.3L2499.9 721.5L2501.1 715.7L2502.7 710L2504.8 704.5L2506.9 699L2509.4 693.6L2512.2 688.5L2514.9 683.3L2518.2 678.5L2521.6 673.8L2525 669.1L2528.9 664.8L2533.2 660.9L2537.5 657.1L2541.9 653.5L2546.6 650.3L2551.6 647.5L2556.6 645L2561.8 642.8L2567.6 641.7L2573.1 640.6L2578.7 640L2584.3 639.7L2589.8 639.8L2595.2 640L2600.4 640.3L2605.4 640.7L2610.4 641L2615.1 641.2L2619.8 641.4L2624.3 641.5L2628.9 641.7L2633.4 641.9L2637.9 641.7L2642.5 641.6L2647 641.4L2651.7 641.2L2656.4 641L2661.4 640.7L2666.4 640.3L2671.6 640L2677 639.8L2682.5 639.7L2688.1 640L2693.7 640.6L2699.2 641.7L2705 642.8L2710.2 645L2715.2 647.5L2720.2 650.3L2724.9 653.5L2729.3 657.1L2733.6 660.9L2737.9 664.8L2741.8 669.1L2745.2 673.8L2748.6 678.5L2751.9 683.3L2754.6 688.5L2757.4 693.6L2759.9 699L2762 704.5L2764.1 710L2765.7 715.7L2766.9 721.5L2768 727.3L2768.4 733.2L2768.3 739.1Z" fill="#c7d9ea"/>
<path d="M2762 745L2761.1 750.6L2759.5 756L2757.8 761.4L2755.6 766.6L2753.4 771.6L2751.3 776.6L2749.4 781.6L2747.4 786.5L2745.1 791.3L2743.1 796.1L2741.3 801.2L2739.7 806.4L2738.1 811.7L2735.9 816.8L2733.4 821.8L2730.3 826.4L2726.7 830.5L2723 834.6L2719.1 838.5L2714.3 841.5L2709.3 844L2704.3 846.3L2699.2 848.2L2692.9 848L2686.8 847.5L2680.6 846.3L2674.6 844.4L2668.9 842.6L2663.5 840.6L2658.5 838.6L2653.7 836.7L2649.3 835.3L2645.2 834.3L2641.1 833.5L2637.2 832.8L2633.4 832.2L2629.6 832.9L2625.7 833.6L2621.6 834.3L2617.5 835.3L2613.1 836.7L2608.3 838.6L2603.3 840.6L2597.9 842.6L2592.2 844.4L2586.2 846.3L2580 847.5L2573.9 848L2567.6 848.2L2562.5 846.3L2557.5 844L2552.5 841.5L2547.7 838.5L2543.8 834.6L2540.1 830.5L2536.5 826.4L2533.4 821.8L2530.9 816.8L2528.7 811.7L2527.1 806.4L2525.5 801.2L2523.7 796.1L2521.7 791.3L2519.4 786.5L2517.4 781.6L2515.5 776.6L2513.4 771.6L2511.2 766.6L2509 761.4L2507.3 756L2505.7 750.6L2504.8 745L2504.6 739.4L2504.5 733.7L2505.1 728.1L2506.3 722.6L2507.5 717.1L2509.1 711.7L2511.2 706.5L2513.2 701.3L2515.7 696.3L2518.4 691.4L2521 686.5L2524.2 682L2527.5 677.5L2530.8 673.2L2534.5 669.1L2538.6 665.5L2542.7 661.9L2546.9 658.5L2551.5 655.7L2556.3 653.2L2561.1 650.8L2566.1 648.9L2571.6 648L2576.9 647.2L2582.2 646.7L2587.5 646.6L2592.7 646.8L2597.7 647L2602.6 647.4L2607.3 647.7L2611.9 648.1L2616.3 648.2L2620.7 648.4L2625 648.6L2629.2 648.8L2633.4 649L2637.6 648.8L2641.8 648.6L2646.1 648.4L2650.5 648.3L2654.9 648.1L2659.5 647.7L2664.2 647.4L2669.1 647L2674.1 646.8L2679.3 646.6L2684.6 646.7L2689.9 647.2L2695.2 648L2700.7 648.9L2705.7 650.8L2710.5 653.2L2715.3 655.7L2719.9 658.5L2724.1 661.9L2728.2 665.5L2732.3 669.1L2736 673.2L2739.3 677.5L2742.6 682L2745.8 686.5L2748.4 691.4L2751.1 696.3L2753.6 701.3L2755.6 706.5L2757.7 711.7L2759.3 717.1L2760.5 722.6L2761.7 728.1L2762.3 733.7L2762.2 739.4Z" fill="#ccdcec"/>
<path d="M2756.1 745L2755.4 750.3L2753.8 755.5L2752.2 760.6L2750 765.6L2747.8 770.4L2745.7 775.1L2743.8 779.8L2741.9 784.5L2739.8 789.1L2737.9 793.7L2736.1 798.5L2734.8 803.5L2733.3 808.6L2731.2 813.5L2729 818.4L2726.1 822.8L2722.6 826.7L2719.1 830.7L2715.5 834.5L2710.9 837.4L2706 839.7L2701.2 841.8L2696.2 843.6L2689.9 842.9L2684 842.1L2677.9 840.5L2672.1 838.3L2666.6 836.3L2661.5 834.1L2656.7 832L2652.3 830.1L2648.2 828.7L2644.3 827.8L2640.6 827.1L2637 826.4L2633.4 825.7L2629.8 826.4L2626.2 827.1L2622.5 827.9L2618.6 828.7L2614.5 830.1L2610.1 832L2605.3 834.1L2600.2 836.3L2594.7 838.3L2588.9 840.5L2582.8 842.1L2576.9 842.9L2570.6 843.6L2565.6 841.8L2560.8 839.7L2555.9 837.4L2551.3 834.5L2547.7 830.7L2544.2 826.7L2540.7 822.8L2537.8 818.4L2535.6 813.5L2533.5 808.6L2532 803.5L2530.7 798.5L2528.9 793.7L2527 789.1L2524.9 784.5L2523 779.8L2521.1 775.1L2519 770.4L2516.8 765.6L2514.6 760.6L2513 755.5L2511.4 750.3L2510.7 745L2510.6 739.6L2510.7 734.3L2511.4 728.9L2512.6 723.7L2513.8 718.5L2515.5 713.4L2517.5 708.5L2519.6 703.6L2522 698.9L2524.6 694.3L2527.1 689.7L2530.2 685.4L2533.4 681.3L2536.6 677.2L2540 673.3L2544 670L2548 666.7L2552 663.6L2556.4 661L2561.1 658.8L2565.6 656.7L2570.4 655.1L2575.7 654.4L2580.7 653.7L2585.7 653.4L2590.7 653.5L2595.6 653.8L2600.3 654.1L2604.8 654.4L2609.2 654.8L2613.5 655.1L2617.6 655.3L2621.6 655.5L2625.6 655.7L2629.5 655.9L2633.4 656.1L2637.3 655.9L2641.2 655.7L2645.2 655.5L2649.2 655.3L2653.3 655.1L2657.6 654.8L2662 654.4L2666.5 654.1L2671.2 653.8L2676.1 653.5L2681.1 653.4L2686.1 653.7L2691.1 654.4L2696.4 655.1L2701.2 656.7L2705.7 658.8L2710.4 661L2714.8 663.6L2718.8 666.7L2722.8 670L2726.8 673.3L2730.2 677.2L2733.4 681.3L2736.6 685.4L2739.7 689.7L2742.2 694.3L2744.8 698.9L2747.2 703.6L2749.3 708.5L2751.3 713.4L2753 718.5L2754.2 723.7L2755.4 728.9L2756.1 734.3L2756.2 739.6Z" fill="#d1e0ed"/>
<path d="M2633.6 663.3L2656.8 661.8L2679.2 659.9L2694.1 661.4L2709 667.9L2722 678.2L2733.2 692.1L2740.6 705.2L2746.2 718.2L2749.9 733.1L2750.3 748L2746.2 761L2740.6 772.2L2736 783.3L2731.3 794.5L2728.5 805.7L2723.9 816.8L2710.8 831.7L2694.1 839.2L2679.2 836.4L2666.2 830.8L2648.5 822.4L2633.6 819.3L2618.3 822.4L2600.6 830.8L2587.6 836.4L2572.7 839.2L2556 831.7L2542.9 816.8L2538.3 805.7L2535.5 794.5L2530.8 783.3L2526.2 772.2L2520.6 761L2516.5 748L2516.9 733.1L2520.6 718.2L2526.2 705.2L2533.6 692.1L2544.8 678.2L2557.8 667.9L2572.7 661.4L2587.6 659.9L2610 661.8Z" fill="#d6e3ef"/>
<ellipse cx="2579.4" cy="752" rx="80" ry="96" fill="url(#pk)"/>
<ellipse cx="2687.4" cy="752" rx="80" ry="96" fill="url(#pk)"/>
</g></g>
<g stroke="#000" stroke-width="2.3" fill="none">
<path d="M1873.6 107.5V1500.2"/>
<path d="M2126.8 107.5V1500.2"/>
<path d="M2380.1 107.5V1500.2"/>
<path d="M2633.4 107.5V1500.2"/>
<path d="M2886.7 107.5V1500.2"/>
<path d="M3140 107.5V1500.2"/>
<path d="M3393.2 107.5V1500.2"/>
<path d="M1720 1309.8H3549.6"/>
<path d="M1720 1056.7H3549.6"/>
<path d="M1720 803.6H3549.6"/>
<path d="M1720 550.5H3549.6"/>
<path d="M1720 297.4H3549.6"/>
</g>
<g fill="none" stroke-width="2.3" stroke-linejoin="round">
<path d="M2633.8 418.8L2648.6 422.6L2663.5 419.6L2678.3 422.1L2693.1 420.5L2722.7 422.1L2739.6 421.3L2754.4 425.5L2769.2 423.8L2786.1 428.1L2798.8 427.2L2815.7 428.9L2830.5 431.5L2845.3 430.6L2860.2 434L2875 435.3L2891.9 435.7L2906.7 441.2L2921.5 442L2937.1 442.5L2951.1 448.4L2968 450.5L2982.8 452.2L2995.5 456.4L3012.4 461.9L3029.4 465.3L3044.2 470.4L3061.1 477.6L3078 483.1L3090.7 488.6L3103.4 497.9L3118.2 506.3L3133 513.9L3145.7 526.2L3156.3 540.2L3164.7 552.9L3169 565.5L3171.1 582.5L3169 599.4L3164.7 620.5L3161.8 643.8L3157.5 665L3149.9 686.1L3141.5 705.1L3135.1 719.9L3132.1 734.8L3122.4 749.6L3111 762.3L3110.3 768.2L3106 779L3101.4 791.2L3097.8 803.5L3096.7 814.3L3095.9 830.7L3094 847L3093.2 868.7L3091.3 882.3L3089.1 889.9L3086.4 898.6L3079.6 912.2L3071.5 925.8L3062 938L3053.8 946.1L3045.7 952.4L3037.5 959.2L3029.3 965.2L3021.2 969.2L3013 973.3L3002.2 977.4L2991.3 981.5L2983.2 984.5L2966.8 986.9L2950.5 988.3L2937 989.3L2920.7 987.7L2904.3 986.1L2893.5 984.5L2887.2 984.2L2874.5 983.4L2860.9 982.3L2844.6 980.1L2831 979L2814.7 976.8L2801.1 976.3L2784.8 976.6L2771.2 979.3L2760.3 984.2L2752.2 991L2744 999.1L2735.9 1007.3L2725 1016.8L2708.7 1027.7L2693.8 1031.7L2678.8 1033.9L2665.2 1033.9L2648.9 1032.6L2633.7 1030.7L2617.9 1032.6L2601.6 1033.9L2588 1033.9L2573.1 1031.7L2558.1 1027.7L2541.8 1016.8L2530.9 1007.3L2522.8 999.1L2514.6 991L2506.5 984.2L2495.6 979.3L2482 976.6L2465.7 976.3L2452.1 976.8L2435.8 979L2422.2 980.1L2405.9 982.3L2392.3 983.4L2379.6 984.2L2373.3 984.5L2362.5 986.1L2346.1 987.7L2329.8 989.3L2316.3 988.3L2300 986.9L2283.6 984.5L2275.5 981.5L2264.6 977.4L2253.8 973.3L2245.6 969.2L2237.5 965.2L2229.3 959.2L2221.1 952.4L2213 946.1L2204.8 938L2195.3 925.8L2187.2 912.2L2180.4 898.6L2177.7 889.9L2175.5 882.3L2173.6 868.7L2172.8 847L2170.9 830.7L2170.1 814.3L2169 803.5L2165.4 791.2L2160.8 779L2156.5 768.2L2155.8 762.3L2144.4 749.6L2134.7 734.8L2131.7 719.9L2125.3 705.1L2116.9 686.1L2109.3 665L2105 643.8L2102.1 620.5L2097.8 599.4L2095.7 582.5L2097.8 565.5L2102.1 552.9L2110.5 540.2L2121.1 526.2L2133.8 513.9L2148.6 506.3L2163.4 497.9L2176.1 488.6L2188.8 483.1L2205.7 477.6L2222.6 470.4L2237.4 465.3L2254.4 461.9L2271.3 456.4L2284 452.2L2298.8 450.5L2315.7 448.4L2329.7 442.5L2345.3 442L2360.1 441.2L2374.9 435.7L2391.8 435.3L2406.6 434L2421.5 430.6L2436.3 431.5L2451.1 428.9L2468 427.2L2480.7 428.1L2497.6 423.8L2512.4 425.5L2527.2 421.3L2544.1 422.1L2573.7 420.5L2588.5 422.1L2603.3 419.6L2618.2 422.6Z" stroke="#050505"/>
<path d="M2633.8 495.8L2648.6 497.4L2663.5 496.6L2693.1 498.3L2722.7 500.4L2739.6 500.8L2769.2 505.1L2786.1 509.3L2800.9 511.8L2815.7 515.6L2830.5 520.3L2845.3 526.2L2860.2 533L2870.7 538.9L2881.3 548.6L2891.9 559.2L2897.4 571.9L2900.8 581.6L2896.1 588.8L2891.9 596L2894 609.1L2904.6 618.4L2915.1 627.7L2925.7 636.2L2937.1 645.1L2941.4 654.4L2943.1 665.8L2942.6 678.5L2936.3 688.2L2929.9 700.9L2921.5 717.8L2910.9 741.1L2900.3 766.5L2891.9 789.7L2887.2 803.5L2882.6 822.5L2877.2 838.8L2871.7 851L2862.2 867.3L2852.7 879.6L2844.6 889.1L2833.7 898.6L2822.8 905.4L2812 911.4L2801.1 916L2787.5 919.8L2771.2 924.4L2754.9 927.9L2738.6 930.4L2725 932.8L2708.7 935L2695.1 934.7L2678.8 933.9L2662.5 932.6L2648.9 931.2L2633.7 929.8L2617.9 931.2L2604.3 932.6L2588 933.9L2571.7 934.7L2558.1 935L2541.8 932.8L2528.2 930.4L2511.9 927.9L2495.6 924.4L2479.3 919.8L2465.7 916L2454.8 911.4L2444 905.4L2433.1 898.6L2422.2 889.1L2414.1 879.6L2404.6 867.3L2395.1 851L2389.6 838.8L2384.2 822.5L2379.6 803.5L2374.9 789.7L2366.5 766.5L2355.9 741.1L2345.3 717.8L2336.9 700.9L2330.5 688.2L2324.2 678.5L2323.7 665.8L2325.4 654.4L2329.7 645.1L2341.1 636.2L2351.7 627.7L2362.2 618.4L2372.8 609.1L2374.9 596L2370.7 588.8L2366 581.6L2369.4 571.9L2374.9 559.2L2385.5 548.6L2396.1 538.9L2406.6 533L2421.5 526.2L2436.3 520.3L2451.1 515.6L2465.9 511.8L2480.7 509.3L2497.6 505.1L2527.2 500.8L2544.1 500.4L2573.7 498.3L2603.3 496.6L2618.2 497.4Z" stroke="#120303"/>
<path d="M2633.8 543.6L2663.5 545.2L2678.3 546.1L2693.1 547.4L2714.2 549.9L2729 552.4L2743.8 557.1L2758.6 562.6L2773.4 569.4L2790.4 579.1L2791.2 588.8L2792.5 599.4L2794.6 609.1L2807.3 624.8L2824.2 645.9L2841.1 665L2847.5 679.8L2850.8 693.7L2849.6 711.5L2845.3 728.4L2839 745.3L2830.5 762.3L2824.2 779.2L2817.9 796.1L2816 799.4L2812 814.3L2807.9 827.9L2801.1 844.2L2791.6 859.2L2782.1 871.4L2771.2 879.6L2756.2 886.4L2741.3 894.5L2725 901.3L2708.7 904.8L2693.8 905.7L2678.8 904L2662.5 901.3L2648.9 899.1L2633.7 898L2617.9 899.1L2604.3 901.3L2588 904L2573.1 905.7L2558.1 904.8L2541.8 901.3L2525.5 894.5L2510.6 886.4L2495.6 879.6L2484.7 871.4L2475.2 859.2L2465.7 844.2L2458.9 827.9L2454.8 814.3L2450.8 799.4L2448.9 796.1L2442.6 779.2L2436.3 762.3L2427.8 745.3L2421.5 728.4L2417.2 711.5L2416 693.7L2419.3 679.8L2425.7 665L2442.6 645.9L2459.5 624.8L2472.2 609.1L2474.3 599.4L2475.6 588.8L2476.4 579.1L2493.4 569.4L2508.2 562.6L2523 557.1L2537.8 552.4L2552.6 549.9L2573.7 547.4L2588.5 546.1L2603.3 545.2Z" stroke="#2a0505"/>
<path d="M2633.8 613.4L2663.5 612.9L2678.3 611.7L2693.1 611.7L2707.9 614.2L2722.7 618.4L2737.5 626.9L2752.3 639.6L2765 653.1L2775.5 669.2L2784 686.1L2790.4 705.1L2793.3 724.2L2792.5 741.1L2788.2 758L2781.9 777.1L2775.5 796.1L2770.7 803.5L2765.8 818.4L2759 833.4L2750.8 845.6L2739.9 856.5L2727.7 864.6L2719.6 868.7L2708.7 873.3L2693.8 875.2L2678.8 874.1L2662.5 870.1L2648.9 866.5L2633.7 864.3L2617.9 866.5L2604.3 870.1L2588 874.1L2573.1 875.2L2558.1 873.3L2547.2 868.7L2539.1 864.6L2526.9 856.5L2516 845.6L2507.8 833.4L2501 818.4L2496.1 803.5L2491.3 796.1L2484.9 777.1L2478.6 758L2474.3 741.1L2473.5 724.2L2476.4 705.1L2482.8 686.1L2491.3 669.2L2501.8 653.1L2514.5 639.6L2529.3 626.9L2544.1 618.4L2558.9 614.2L2573.7 611.7L2588.5 611.7L2603.3 612.9Z" stroke="#3d0707"/>
<path d="M2633.6 663.3L2656.8 661.8L2679.2 659.9L2694.1 661.4L2709 667.9L2722 678.2L2733.2 692.1L2740.6 705.2L2746.2 718.2L2749.9 733.1L2750.3 748L2746.2 761L2740.6 772.2L2736 783.3L2731.3 794.5L2728.5 805.7L2723.9 816.8L2710.8 831.7L2694.1 839.2L2679.2 836.4L2666.2 830.8L2648.5 822.4L2633.6 819.3L2618.3 822.4L2600.6 830.8L2587.6 836.4L2572.7 839.2L2556 831.7L2542.9 816.8L2538.3 805.7L2535.5 794.5L2530.8 783.3L2526.2 772.2L2520.6 761L2516.5 748L2516.9 733.1L2520.6 718.2L2526.2 705.2L2533.6 692.1L2544.8 678.2L2557.8 667.9L2572.7 661.4L2587.6 659.9L2610 661.8Z" stroke="#5a0a0a"/>
<path d="M2679.2 730.7L2695 733.6L2698.2 748L2694.1 755L2679.2 757.3L2672.7 748.9L2672.7 735.9Z" stroke="#7a0d0d"/>
<path d="M2587.6 730.7L2571.8 733.6L2568.6 748L2572.7 755L2587.6 757.3L2594.1 748.9L2594.1 735.9Z" stroke="#7a0d0d"/>
</g>
<rect x="2630.1" y="797.1" width="6.5" height="12.5" fill="none" stroke="#888" stroke-width="1.2"/>
<rect x="1720" y="107.5" width="1829.6" height="1392.7" fill="none" stroke="#000" stroke-width="2.5"/>
<g font-family="Liberation Sans, sans-serif" fill="#000" stroke="#000" stroke-width="1.4" stroke-linejoin="round">
<text transform="translate(62.8 75.9) scale(1 1.04)" text-anchor="middle" font-size="30" >120°</text>
<text transform="translate(1548.7 75.9) scale(1 1.04)" text-anchor="middle" font-size="30" >120°</text>
<text transform="translate(62.8 277.9) scale(1 1.04)" text-anchor="middle" font-size="30" >105°</text>
<text transform="translate(1548.7 277.9) scale(1 1.04)" text-anchor="middle" font-size="30" >105°</text>
<text transform="translate(62.8 477.4) scale(1 1.04)" text-anchor="middle" font-size="30" >90°</text>
<text transform="translate(1548.7 477.4) scale(1 1.04)" text-anchor="middle" font-size="30" >90°</text>
<text transform="translate(62.8 676.4) scale(1 1.04)" text-anchor="middle" font-size="30" >75°</text>
<text transform="translate(1548.7 676.4) scale(1 1.04)" text-anchor="middle" font-size="30" >75°</text>
<text transform="translate(62.8 905.9) scale(1 1.04)" text-anchor="middle" font-size="30" >60°</text>
<text transform="translate(1548.7 905.9) scale(1 1.04)" text-anchor="middle" font-size="30" >60°</text>
<text transform="translate(62.8 1220.4) scale(1 1.04)" text-anchor="middle" font-size="30" >45°</text>
<text transform="translate(1548.7 1220.4) scale(1 1.04)" text-anchor="middle" font-size="30" >45°</text>
<text transform="translate(123.5 75.9) scale(1 1.04)" text-anchor="start" font-size="30" >Gamma Angles</text>
<text transform="translate(806.3 75.9) scale(1 1.04)" text-anchor="middle" font-size="30" >180°</text>
<text transform="translate(179.2 1562.2) scale(1 1.04)" text-anchor="middle" font-size="30" >30°</text>
<text transform="translate(515.7 1562.2) scale(1 1.04)" text-anchor="middle" font-size="30" >15°</text>
<text transform="translate(805.1 1562.2) scale(1 1.04)" text-anchor="middle" font-size="30" >0°</text>
<text transform="translate(1095.4 1562.2) scale(1 1.04)" text-anchor="middle" font-size="30" >15°</text>
<text transform="translate(1431.9 1562.2) scale(1 1.04)" text-anchor="middle" font-size="30" >30°</text>
<text transform="translate(806.5 257.3) scale(1 1.04)" text-anchor="start" font-size="30" >150</text>
<text transform="translate(806.5 667.3) scale(1 1.04)" text-anchor="start" font-size="30" >150</text>
<text transform="translate(806.5 872.3) scale(1 1.04)" text-anchor="start" font-size="30" >300</text>
<text transform="translate(806.5 1077.3) scale(1 1.04)" text-anchor="start" font-size="30" >450</text>
<text transform="translate(806.5 1282.3) scale(1 1.04)" text-anchor="start" font-size="30" >600</text>
<text transform="translate(806.5 1487.3) scale(1 1.04)" text-anchor="start" font-size="30" >750</text>
<text transform="translate(1411.5 1472.9) scale(1 1.04)" text-anchor="start" font-size="30" >cd/klm</text>
<text transform="translate(2633 81.8) scale(1 1.04)" text-anchor="middle" font-size="30" >Road</text>
<text transform="translate(1693.4 314) scale(1 1.04)" text-anchor="end" font-size="30" >16</text>
<text transform="translate(1693.4 567.1) scale(1 1.04)" text-anchor="end" font-size="30" >8</text>
<text transform="translate(1693.4 820.2) scale(1 1.04)" text-anchor="end" font-size="30" >0</text>
<text transform="translate(1693.4 1073.3) scale(1 1.04)" text-anchor="end" font-size="30" >-8</text>
<text transform="translate(1693.4 1326.4) scale(1 1.04)" text-anchor="end" font-size="30" >-16</text>
<text transform="translate(1873.6 1544.6) scale(1 1.04)" text-anchor="middle" font-size="30" >-24</text>
<text transform="translate(2126.8 1544.6) scale(1 1.04)" text-anchor="middle" font-size="30" >-16</text>
<text transform="translate(2380.1 1544.6) scale(1 1.04)" text-anchor="middle" font-size="30" >-8</text>
<text transform="translate(2633.4 1544.6) scale(1 1.04)" text-anchor="middle" font-size="30" >0</text>
<text transform="translate(2886.7 1544.6) scale(1 1.04)" text-anchor="middle" font-size="30" >8</text>
<text transform="translate(3140 1544.6) scale(1 1.04)" text-anchor="middle" font-size="30" >16</text>
<text transform="translate(3393.2 1544.6) scale(1 1.04)" text-anchor="middle" font-size="30" >24</text>
<text transform="translate(2634 1531) scale(1 1.04)" text-anchor="middle" font-size="30" >Pavement</text>
<text transform="translate(3388.3 1500.3) scale(1 1.04)" text-anchor="end" font-size="30" >lux</text>
<text transform="translate(3606.5 1544.6) scale(1 1.04)" text-anchor="start" font-size="30" >m</text>
</g>
<g font-family="Liberation Sans, sans-serif" fill="#000" font-weight="bold" font-size="33">
<text x="510.5" y="1654.3" textLength="114" lengthAdjust="spacingAndGlyphs">cd/klm</text>
<text x="691" y="1654.3" textLength="133.5" lengthAdjust="spacingAndGlyphs">C0-C180</text>
<text x="889" y="1654.3" textLength="153.5" lengthAdjust="spacingAndGlyphs">C90-C270</text>
<text x="1707.5" y="1652.4" textLength="179.5" lengthAdjust="spacingAndGlyphs" font-size="32">Height = 7m</text>
<text x="3323.5" y="1652.4" textLength="196.5" lengthAdjust="spacingAndGlyphs" font-size="32">Units: meters</text>
</g>
<path d="M635.6 1644.4H681.1" stroke="#e8604a" stroke-width="4.4" stroke-dasharray="9.2 2.9" fill="none"/>
<path d="M834.3 1644.4H879.8" stroke="#4a6090" stroke-width="4.4" stroke-dasharray="9.2 2.9" fill="none"/>
<rect x="0" y="0" width="3657" height="1.6" fill="#777"/>
<rect x="1609" y="0" width="9.5" height="2.2" fill="#000"/>
<rect x="0" y="0" width="2.1" height="1678" fill="#000"/>
<rect x="3654.2" y="0" width="2.8" height="1678" fill="#000"/>
<rect x="0" y="1675.6" width="3657" height="2.4" fill="#000"/>
<rect x="2" y="1614.7" width="3653" height="1.5" fill="#8a8a8a"/>
</svg>
</body></html>
